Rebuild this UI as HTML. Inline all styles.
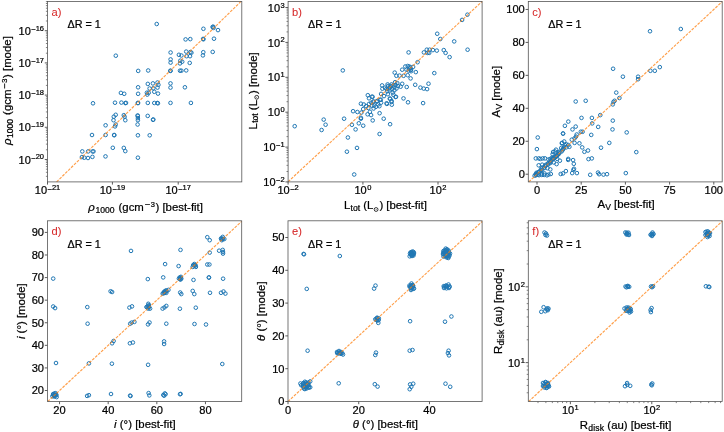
<!DOCTYPE html>
<html><head><meta charset="utf-8"><style>
html,body{margin:0;padding:0;background:#fff;}
svg{display:block;filter:blur(0.45px);}
text{font-family:"Liberation Sans",sans-serif;white-space:pre;stroke:#000;stroke-width:0.22px;}
</style></head><body>
<svg width="724" height="432" viewBox="0 0 724 432" fill="#000">
<rect width="724" height="432" fill="#fff"/>
<path d="M154.90 24.00a1.8 1.8 0 1 0 3.6 0a1.8 1.8 0 1 0 -3.6 0M201.60 28.80a1.8 1.8 0 1 0 3.6 0a1.8 1.8 0 1 0 -3.6 0M211.40 26.70a1.8 1.8 0 1 0 3.6 0a1.8 1.8 0 1 0 -3.6 0M211.70 27.90a1.8 1.8 0 1 0 3.6 0a1.8 1.8 0 1 0 -3.6 0M210.80 27.00a1.8 1.8 0 1 0 3.6 0a1.8 1.8 0 1 0 -3.6 0M216.20 30.10a1.8 1.8 0 1 0 3.6 0a1.8 1.8 0 1 0 -3.6 0M183.80 39.40a1.8 1.8 0 1 0 3.6 0a1.8 1.8 0 1 0 -3.6 0M188.50 39.10a1.8 1.8 0 1 0 3.6 0a1.8 1.8 0 1 0 -3.6 0M201.30 38.90a1.8 1.8 0 1 0 3.6 0a1.8 1.8 0 1 0 -3.6 0M201.60 39.30a1.8 1.8 0 1 0 3.6 0a1.8 1.8 0 1 0 -3.6 0M212.20 38.70a1.8 1.8 0 1 0 3.6 0a1.8 1.8 0 1 0 -3.6 0M168.80 52.50a1.8 1.8 0 1 0 3.6 0a1.8 1.8 0 1 0 -3.6 0M168.80 59.40a1.8 1.8 0 1 0 3.6 0a1.8 1.8 0 1 0 -3.6 0M168.80 62.60a1.8 1.8 0 1 0 3.6 0a1.8 1.8 0 1 0 -3.6 0M168.80 70.70a1.8 1.8 0 1 0 3.6 0a1.8 1.8 0 1 0 -3.6 0M168.50 70.90a1.8 1.8 0 1 0 3.6 0a1.8 1.8 0 1 0 -3.6 0M177.10 54.80a1.8 1.8 0 1 0 3.6 0a1.8 1.8 0 1 0 -3.6 0M179.60 55.50a1.8 1.8 0 1 0 3.6 0a1.8 1.8 0 1 0 -3.6 0M178.50 60.70a1.8 1.8 0 1 0 3.6 0a1.8 1.8 0 1 0 -3.6 0M180.40 61.70a1.8 1.8 0 1 0 3.6 0a1.8 1.8 0 1 0 -3.6 0M178.20 63.40a1.8 1.8 0 1 0 3.6 0a1.8 1.8 0 1 0 -3.6 0M184.40 51.60a1.8 1.8 0 1 0 3.6 0a1.8 1.8 0 1 0 -3.6 0M188.60 52.00a1.8 1.8 0 1 0 3.6 0a1.8 1.8 0 1 0 -3.6 0M184.80 56.20a1.8 1.8 0 1 0 3.6 0a1.8 1.8 0 1 0 -3.6 0M188.20 56.20a1.8 1.8 0 1 0 3.6 0a1.8 1.8 0 1 0 -3.6 0M189.60 52.70a1.8 1.8 0 1 0 3.6 0a1.8 1.8 0 1 0 -3.6 0M187.90 62.90a1.8 1.8 0 1 0 3.6 0a1.8 1.8 0 1 0 -3.6 0M178.20 70.70a1.8 1.8 0 1 0 3.6 0a1.8 1.8 0 1 0 -3.6 0M179.60 70.70a1.8 1.8 0 1 0 3.6 0a1.8 1.8 0 1 0 -3.6 0M184.40 70.40a1.8 1.8 0 1 0 3.6 0a1.8 1.8 0 1 0 -3.6 0M201.50 52.20a1.8 1.8 0 1 0 3.6 0a1.8 1.8 0 1 0 -3.6 0M201.10 55.40a1.8 1.8 0 1 0 3.6 0a1.8 1.8 0 1 0 -3.6 0M210.90 51.90a1.8 1.8 0 1 0 3.6 0a1.8 1.8 0 1 0 -3.6 0M114.00 55.70a1.8 1.8 0 1 0 3.6 0a1.8 1.8 0 1 0 -3.6 0M136.40 70.90a1.8 1.8 0 1 0 3.6 0a1.8 1.8 0 1 0 -3.6 0M146.40 70.50a1.8 1.8 0 1 0 3.6 0a1.8 1.8 0 1 0 -3.6 0M146.00 83.90a1.8 1.8 0 1 0 3.6 0a1.8 1.8 0 1 0 -3.6 0M151.10 83.40a1.8 1.8 0 1 0 3.6 0a1.8 1.8 0 1 0 -3.6 0M155.70 82.50a1.8 1.8 0 1 0 3.6 0a1.8 1.8 0 1 0 -3.6 0M156.60 84.80a1.8 1.8 0 1 0 3.6 0a1.8 1.8 0 1 0 -3.6 0M136.30 87.30a1.8 1.8 0 1 0 3.6 0a1.8 1.8 0 1 0 -3.6 0M147.80 88.50a1.8 1.8 0 1 0 3.6 0a1.8 1.8 0 1 0 -3.6 0M151.50 88.30a1.8 1.8 0 1 0 3.6 0a1.8 1.8 0 1 0 -3.6 0M155.70 87.60a1.8 1.8 0 1 0 3.6 0a1.8 1.8 0 1 0 -3.6 0M168.70 83.40a1.8 1.8 0 1 0 3.6 0a1.8 1.8 0 1 0 -3.6 0M168.70 87.60a1.8 1.8 0 1 0 3.6 0a1.8 1.8 0 1 0 -3.6 0M183.10 87.30a1.8 1.8 0 1 0 3.6 0a1.8 1.8 0 1 0 -3.6 0M119.10 92.90a1.8 1.8 0 1 0 3.6 0a1.8 1.8 0 1 0 -3.6 0M122.40 93.80a1.8 1.8 0 1 0 3.6 0a1.8 1.8 0 1 0 -3.6 0M136.30 93.80a1.8 1.8 0 1 0 3.6 0a1.8 1.8 0 1 0 -3.6 0M145.10 92.70a1.8 1.8 0 1 0 3.6 0a1.8 1.8 0 1 0 -3.6 0M146.90 92.70a1.8 1.8 0 1 0 3.6 0a1.8 1.8 0 1 0 -3.6 0M145.50 94.60a1.8 1.8 0 1 0 3.6 0a1.8 1.8 0 1 0 -3.6 0M152.50 91.80a1.8 1.8 0 1 0 3.6 0a1.8 1.8 0 1 0 -3.6 0M156.20 93.60a1.8 1.8 0 1 0 3.6 0a1.8 1.8 0 1 0 -3.6 0M119.60 102.60a1.8 1.8 0 1 0 3.6 0a1.8 1.8 0 1 0 -3.6 0M124.20 102.90a1.8 1.8 0 1 0 3.6 0a1.8 1.8 0 1 0 -3.6 0M123.60 103.10a1.8 1.8 0 1 0 3.6 0a1.8 1.8 0 1 0 -3.6 0M136.30 102.90a1.8 1.8 0 1 0 3.6 0a1.8 1.8 0 1 0 -3.6 0M136.00 103.10a1.8 1.8 0 1 0 3.6 0a1.8 1.8 0 1 0 -3.6 0M146.00 102.90a1.8 1.8 0 1 0 3.6 0a1.8 1.8 0 1 0 -3.6 0M152.50 103.00a1.8 1.8 0 1 0 3.6 0a1.8 1.8 0 1 0 -3.6 0M155.60 103.00a1.8 1.8 0 1 0 3.6 0a1.8 1.8 0 1 0 -3.6 0M156.10 103.30a1.8 1.8 0 1 0 3.6 0a1.8 1.8 0 1 0 -3.6 0M168.70 102.90a1.8 1.8 0 1 0 3.6 0a1.8 1.8 0 1 0 -3.6 0M189.10 102.90a1.8 1.8 0 1 0 3.6 0a1.8 1.8 0 1 0 -3.6 0M91.20 103.30a1.8 1.8 0 1 0 3.6 0a1.8 1.8 0 1 0 -3.6 0M113.20 102.70a1.8 1.8 0 1 0 3.6 0a1.8 1.8 0 1 0 -3.6 0M112.00 116.70a1.8 1.8 0 1 0 3.6 0a1.8 1.8 0 1 0 -3.6 0M113.90 114.80a1.8 1.8 0 1 0 3.6 0a1.8 1.8 0 1 0 -3.6 0M111.70 120.20a1.8 1.8 0 1 0 3.6 0a1.8 1.8 0 1 0 -3.6 0M122.00 115.20a1.8 1.8 0 1 0 3.6 0a1.8 1.8 0 1 0 -3.6 0M122.80 116.70a1.8 1.8 0 1 0 3.6 0a1.8 1.8 0 1 0 -3.6 0M123.50 120.20a1.8 1.8 0 1 0 3.6 0a1.8 1.8 0 1 0 -3.6 0M135.80 115.50a1.8 1.8 0 1 0 3.6 0a1.8 1.8 0 1 0 -3.6 0M136.00 115.90a1.8 1.8 0 1 0 3.6 0a1.8 1.8 0 1 0 -3.6 0M136.10 118.10a1.8 1.8 0 1 0 3.6 0a1.8 1.8 0 1 0 -3.6 0M136.10 120.20a1.8 1.8 0 1 0 3.6 0a1.8 1.8 0 1 0 -3.6 0M145.90 115.90a1.8 1.8 0 1 0 3.6 0a1.8 1.8 0 1 0 -3.6 0M151.50 119.50a1.8 1.8 0 1 0 3.6 0a1.8 1.8 0 1 0 -3.6 0M151.20 119.80a1.8 1.8 0 1 0 3.6 0a1.8 1.8 0 1 0 -3.6 0M103.80 125.30a1.8 1.8 0 1 0 3.6 0a1.8 1.8 0 1 0 -3.6 0M113.90 124.50a1.8 1.8 0 1 0 3.6 0a1.8 1.8 0 1 0 -3.6 0M113.20 126.40a1.8 1.8 0 1 0 3.6 0a1.8 1.8 0 1 0 -3.6 0M135.80 124.50a1.8 1.8 0 1 0 3.6 0a1.8 1.8 0 1 0 -3.6 0M90.20 135.00a1.8 1.8 0 1 0 3.6 0a1.8 1.8 0 1 0 -3.6 0M103.80 135.00a1.8 1.8 0 1 0 3.6 0a1.8 1.8 0 1 0 -3.6 0M112.30 135.00a1.8 1.8 0 1 0 3.6 0a1.8 1.8 0 1 0 -3.6 0M112.50 135.20a1.8 1.8 0 1 0 3.6 0a1.8 1.8 0 1 0 -3.6 0M136.10 135.30a1.8 1.8 0 1 0 3.6 0a1.8 1.8 0 1 0 -3.6 0M147.90 135.30a1.8 1.8 0 1 0 3.6 0a1.8 1.8 0 1 0 -3.6 0M111.00 147.80a1.8 1.8 0 1 0 3.6 0a1.8 1.8 0 1 0 -3.6 0M122.00 147.90a1.8 1.8 0 1 0 3.6 0a1.8 1.8 0 1 0 -3.6 0M123.50 151.10a1.8 1.8 0 1 0 3.6 0a1.8 1.8 0 1 0 -3.6 0M80.50 151.40a1.8 1.8 0 1 0 3.6 0a1.8 1.8 0 1 0 -3.6 0M86.40 151.40a1.8 1.8 0 1 0 3.6 0a1.8 1.8 0 1 0 -3.6 0M90.80 151.40a1.8 1.8 0 1 0 3.6 0a1.8 1.8 0 1 0 -3.6 0M91.70 151.40a1.8 1.8 0 1 0 3.6 0a1.8 1.8 0 1 0 -3.6 0M80.10 157.10a1.8 1.8 0 1 0 3.6 0a1.8 1.8 0 1 0 -3.6 0M82.50 157.70a1.8 1.8 0 1 0 3.6 0a1.8 1.8 0 1 0 -3.6 0M86.20 158.00a1.8 1.8 0 1 0 3.6 0a1.8 1.8 0 1 0 -3.6 0M90.60 156.90a1.8 1.8 0 1 0 3.6 0a1.8 1.8 0 1 0 -3.6 0M103.70 156.40a1.8 1.8 0 1 0 3.6 0a1.8 1.8 0 1 0 -3.6 0M136.10 157.70a1.8 1.8 0 1 0 3.6 0a1.8 1.8 0 1 0 -3.6 0" stroke="#1f77b4" stroke-width="1.0" fill="none"/>
<line x1="56.61" y1="181.90" x2="241.04" y2="1.40" stroke="#ff7f0e" stroke-width="1.15" stroke-dasharray="2.83 1.22" stroke-opacity="0.75"/>
<path d="M47.50 181.90v2.7M112.41 181.90v2.7M178.21 181.90v2.7M47.50 159.49h-2.7M47.50 127.29h-2.7M47.50 95.10h-2.7M47.50 62.90h-2.7M47.50 30.70h-2.7" stroke="#333" stroke-width="0.8" fill="none"/>
<path d="M47.50 176.33h-1.6M47.50 172.30h-1.6M47.50 169.18h-1.6M47.50 166.63h-1.6M47.50 164.48h-1.6M47.50 162.61h-1.6M47.50 160.96h-1.6M47.50 149.80h-1.6M47.50 144.13h-1.6M47.50 140.11h-1.6M47.50 136.99h-1.6M47.50 134.44h-1.6M47.50 132.28h-1.6M47.50 130.41h-1.6M47.50 128.77h-1.6M47.50 117.60h-1.6M47.50 111.93h-1.6M47.50 107.91h-1.6M47.50 104.79h-1.6M47.50 102.24h-1.6M47.50 100.08h-1.6M47.50 98.22h-1.6M47.50 96.57h-1.6M47.50 85.40h-1.6M47.50 79.73h-1.6M47.50 75.71h-1.6M47.50 72.59h-1.6M47.50 70.04h-1.6M47.50 67.88h-1.6M47.50 66.02h-1.6M47.50 64.37h-1.6M47.50 53.21h-1.6M47.50 47.54h-1.6M47.50 43.51h-1.6M47.50 40.39h-1.6M47.50 37.84h-1.6M47.50 35.69h-1.6M47.50 33.82h-1.6M47.50 32.17h-1.6M47.50 21.01h-1.6M47.50 15.34h-1.6M47.50 11.31h-1.6M47.50 8.19h-1.6M47.50 5.65h-1.6M47.50 3.49h-1.6M47.50 1.62h-1.6" stroke="#333" stroke-width="0.6" fill="none"/>
<rect x="47.5" y="1.4" width="194.30" height="180.50" fill="none" stroke="#555" stroke-width="0.8"/>
<text x="34.77" y="194.40" font-size="11.0">10</text><text x="47.51" y="191.60" font-size="7.5">−</text><text x="51.89" y="190.30" font-size="7.5">21</text>
<text x="99.68" y="194.40" font-size="11.0">10</text><text x="112.42" y="191.60" font-size="7.5">−</text><text x="116.80" y="190.30" font-size="7.5">19</text>
<text x="165.48" y="194.40" font-size="11.0">10</text><text x="178.21" y="191.60" font-size="7.5">−</text><text x="182.59" y="190.30" font-size="7.5">17</text>
<text x="18.54" y="163.59" font-size="11.0">10</text><text x="31.28" y="160.79" font-size="7.5">−</text><text x="35.66" y="159.49" font-size="7.5">20</text>
<text x="18.54" y="131.39" font-size="11.0">10</text><text x="31.28" y="128.59" font-size="7.5">−</text><text x="35.66" y="127.29" font-size="7.5">19</text>
<text x="18.54" y="99.20" font-size="11.0">10</text><text x="31.28" y="96.40" font-size="7.5">−</text><text x="35.66" y="95.10" font-size="7.5">18</text>
<text x="18.54" y="67.00" font-size="11.0">10</text><text x="31.28" y="64.20" font-size="7.5">−</text><text x="35.66" y="62.90" font-size="7.5">17</text>
<text x="18.54" y="34.80" font-size="11.0">10</text><text x="31.28" y="32.00" font-size="7.5">−</text><text x="35.66" y="30.70" font-size="7.5">16</text>
<text x="51.50" y="15.50" font-size="11.1" style="fill:#d62728;stroke:#d62728;stroke-width:0.05px">a)</text>
<text x="67.50" y="27.70" font-size="10.8">ΔR = 1</text>
<path d="M465.60 14.70a1.8 1.8 0 1 0 3.6 0a1.8 1.8 0 1 0 -3.6 0M460.30 19.90a1.8 1.8 0 1 0 3.6 0a1.8 1.8 0 1 0 -3.6 0M435.40 33.75a1.8 1.8 0 1 0 3.6 0a1.8 1.8 0 1 0 -3.6 0M438.50 39.00a1.8 1.8 0 1 0 3.6 0a1.8 1.8 0 1 0 -3.6 0M452.40 41.40a1.8 1.8 0 1 0 3.6 0a1.8 1.8 0 1 0 -3.6 0M406.80 52.40a1.8 1.8 0 1 0 3.6 0a1.8 1.8 0 1 0 -3.6 0M422.10 52.40a1.8 1.8 0 1 0 3.6 0a1.8 1.8 0 1 0 -3.6 0M425.00 49.70a1.8 1.8 0 1 0 3.6 0a1.8 1.8 0 1 0 -3.6 0M427.80 49.70a1.8 1.8 0 1 0 3.6 0a1.8 1.8 0 1 0 -3.6 0M425.70 52.90a1.8 1.8 0 1 0 3.6 0a1.8 1.8 0 1 0 -3.6 0M427.40 52.90a1.8 1.8 0 1 0 3.6 0a1.8 1.8 0 1 0 -3.6 0M431.10 50.10a1.8 1.8 0 1 0 3.6 0a1.8 1.8 0 1 0 -3.6 0M435.00 50.60a1.8 1.8 0 1 0 3.6 0a1.8 1.8 0 1 0 -3.6 0M441.95 50.10a1.8 1.8 0 1 0 3.6 0a1.8 1.8 0 1 0 -3.6 0M443.80 52.90a1.8 1.8 0 1 0 3.6 0a1.8 1.8 0 1 0 -3.6 0M447.80 57.10a1.8 1.8 0 1 0 3.6 0a1.8 1.8 0 1 0 -3.6 0M465.80 49.70a1.8 1.8 0 1 0 3.6 0a1.8 1.8 0 1 0 -3.6 0M415.80 62.20a1.8 1.8 0 1 0 3.6 0a1.8 1.8 0 1 0 -3.6 0M403.50 66.50a1.8 1.8 0 1 0 3.6 0a1.8 1.8 0 1 0 -3.6 0M405.90 66.00a1.8 1.8 0 1 0 3.6 0a1.8 1.8 0 1 0 -3.6 0M407.60 66.50a1.8 1.8 0 1 0 3.6 0a1.8 1.8 0 1 0 -3.6 0M411.30 66.90a1.8 1.8 0 1 0 3.6 0a1.8 1.8 0 1 0 -3.6 0M400.40 69.70a1.8 1.8 0 1 0 3.6 0a1.8 1.8 0 1 0 -3.6 0M404.70 69.70a1.8 1.8 0 1 0 3.6 0a1.8 1.8 0 1 0 -3.6 0M408.80 70.00a1.8 1.8 0 1 0 3.6 0a1.8 1.8 0 1 0 -3.6 0M409.30 71.20a1.8 1.8 0 1 0 3.6 0a1.8 1.8 0 1 0 -3.6 0M414.00 72.10a1.8 1.8 0 1 0 3.6 0a1.8 1.8 0 1 0 -3.6 0M392.90 72.60a1.8 1.8 0 1 0 3.6 0a1.8 1.8 0 1 0 -3.6 0M394.60 75.80a1.8 1.8 0 1 0 3.6 0a1.8 1.8 0 1 0 -3.6 0M397.70 75.60a1.8 1.8 0 1 0 3.6 0a1.8 1.8 0 1 0 -3.6 0M401.80 75.80a1.8 1.8 0 1 0 3.6 0a1.8 1.8 0 1 0 -3.6 0M405.90 75.20a1.8 1.8 0 1 0 3.6 0a1.8 1.8 0 1 0 -3.6 0M408.80 78.40a1.8 1.8 0 1 0 3.6 0a1.8 1.8 0 1 0 -3.6 0M432.50 73.10a1.8 1.8 0 1 0 3.6 0a1.8 1.8 0 1 0 -3.6 0M380.30 85.40a1.8 1.8 0 1 0 3.6 0a1.8 1.8 0 1 0 -3.6 0M380.60 88.70a1.8 1.8 0 1 0 3.6 0a1.8 1.8 0 1 0 -3.6 0M385.80 84.40a1.8 1.8 0 1 0 3.6 0a1.8 1.8 0 1 0 -3.6 0M389.70 84.40a1.8 1.8 0 1 0 3.6 0a1.8 1.8 0 1 0 -3.6 0M393.30 82.20a1.8 1.8 0 1 0 3.6 0a1.8 1.8 0 1 0 -3.6 0M395.50 83.10a1.8 1.8 0 1 0 3.6 0a1.8 1.8 0 1 0 -3.6 0M400.40 83.80a1.8 1.8 0 1 0 3.6 0a1.8 1.8 0 1 0 -3.6 0M398.80 86.70a1.8 1.8 0 1 0 3.6 0a1.8 1.8 0 1 0 -3.6 0M404.90 87.00a1.8 1.8 0 1 0 3.6 0a1.8 1.8 0 1 0 -3.6 0M383.20 87.70a1.8 1.8 0 1 0 3.6 0a1.8 1.8 0 1 0 -3.6 0M387.40 88.30a1.8 1.8 0 1 0 3.6 0a1.8 1.8 0 1 0 -3.6 0M392.60 87.40a1.8 1.8 0 1 0 3.6 0a1.8 1.8 0 1 0 -3.6 0M392.60 90.30a1.8 1.8 0 1 0 3.6 0a1.8 1.8 0 1 0 -3.6 0M385.50 91.30a1.8 1.8 0 1 0 3.6 0a1.8 1.8 0 1 0 -3.6 0M391.00 92.60a1.8 1.8 0 1 0 3.6 0a1.8 1.8 0 1 0 -3.6 0M386.10 94.20a1.8 1.8 0 1 0 3.6 0a1.8 1.8 0 1 0 -3.6 0M391.60 94.80a1.8 1.8 0 1 0 3.6 0a1.8 1.8 0 1 0 -3.6 0M394.20 96.80a1.8 1.8 0 1 0 3.6 0a1.8 1.8 0 1 0 -3.6 0M382.20 96.10a1.8 1.8 0 1 0 3.6 0a1.8 1.8 0 1 0 -3.6 0M379.30 93.90a1.8 1.8 0 1 0 3.6 0a1.8 1.8 0 1 0 -3.6 0M370.80 96.80a1.8 1.8 0 1 0 3.6 0a1.8 1.8 0 1 0 -3.6 0M388.40 98.70a1.8 1.8 0 1 0 3.6 0a1.8 1.8 0 1 0 -3.6 0M401.70 98.40a1.8 1.8 0 1 0 3.6 0a1.8 1.8 0 1 0 -3.6 0M379.00 99.70a1.8 1.8 0 1 0 3.6 0a1.8 1.8 0 1 0 -3.6 0M375.40 101.00a1.8 1.8 0 1 0 3.6 0a1.8 1.8 0 1 0 -3.6 0M371.50 101.60a1.8 1.8 0 1 0 3.6 0a1.8 1.8 0 1 0 -3.6 0M384.80 103.30a1.8 1.8 0 1 0 3.6 0a1.8 1.8 0 1 0 -3.6 0M389.70 102.00a1.8 1.8 0 1 0 3.6 0a1.8 1.8 0 1 0 -3.6 0M406.20 102.30a1.8 1.8 0 1 0 3.6 0a1.8 1.8 0 1 0 -3.6 0M413.40 84.80a1.8 1.8 0 1 0 3.6 0a1.8 1.8 0 1 0 -3.6 0M426.70 83.70a1.8 1.8 0 1 0 3.6 0a1.8 1.8 0 1 0 -3.6 0M418.60 87.60a1.8 1.8 0 1 0 3.6 0a1.8 1.8 0 1 0 -3.6 0M421.90 88.60a1.8 1.8 0 1 0 3.6 0a1.8 1.8 0 1 0 -3.6 0M425.30 89.10a1.8 1.8 0 1 0 3.6 0a1.8 1.8 0 1 0 -3.6 0M421.30 103.10a1.8 1.8 0 1 0 3.6 0a1.8 1.8 0 1 0 -3.6 0M366.00 95.20a1.8 1.8 0 1 0 3.6 0a1.8 1.8 0 1 0 -3.6 0M370.10 96.70a1.8 1.8 0 1 0 3.6 0a1.8 1.8 0 1 0 -3.6 0M367.20 98.30a1.8 1.8 0 1 0 3.6 0a1.8 1.8 0 1 0 -3.6 0M388.00 98.70a1.8 1.8 0 1 0 3.6 0a1.8 1.8 0 1 0 -3.6 0M389.80 101.00a1.8 1.8 0 1 0 3.6 0a1.8 1.8 0 1 0 -3.6 0M393.80 97.00a1.8 1.8 0 1 0 3.6 0a1.8 1.8 0 1 0 -3.6 0M385.10 103.90a1.8 1.8 0 1 0 3.6 0a1.8 1.8 0 1 0 -3.6 0M390.00 104.70a1.8 1.8 0 1 0 3.6 0a1.8 1.8 0 1 0 -3.6 0M359.10 103.70a1.8 1.8 0 1 0 3.6 0a1.8 1.8 0 1 0 -3.6 0M362.00 104.50a1.8 1.8 0 1 0 3.6 0a1.8 1.8 0 1 0 -3.6 0M364.30 106.20a1.8 1.8 0 1 0 3.6 0a1.8 1.8 0 1 0 -3.6 0M367.20 103.90a1.8 1.8 0 1 0 3.6 0a1.8 1.8 0 1 0 -3.6 0M369.50 102.70a1.8 1.8 0 1 0 3.6 0a1.8 1.8 0 1 0 -3.6 0M371.80 101.60a1.8 1.8 0 1 0 3.6 0a1.8 1.8 0 1 0 -3.6 0M374.70 101.60a1.8 1.8 0 1 0 3.6 0a1.8 1.8 0 1 0 -3.6 0M378.20 99.80a1.8 1.8 0 1 0 3.6 0a1.8 1.8 0 1 0 -3.6 0M379.30 102.70a1.8 1.8 0 1 0 3.6 0a1.8 1.8 0 1 0 -3.6 0M376.40 104.50a1.8 1.8 0 1 0 3.6 0a1.8 1.8 0 1 0 -3.6 0M370.10 105.60a1.8 1.8 0 1 0 3.6 0a1.8 1.8 0 1 0 -3.6 0M372.40 105.60a1.8 1.8 0 1 0 3.6 0a1.8 1.8 0 1 0 -3.6 0M374.10 106.80a1.8 1.8 0 1 0 3.6 0a1.8 1.8 0 1 0 -3.6 0M377.60 106.20a1.8 1.8 0 1 0 3.6 0a1.8 1.8 0 1 0 -3.6 0M366.60 108.00a1.8 1.8 0 1 0 3.6 0a1.8 1.8 0 1 0 -3.6 0M361.40 109.10a1.8 1.8 0 1 0 3.6 0a1.8 1.8 0 1 0 -3.6 0M371.80 108.50a1.8 1.8 0 1 0 3.6 0a1.8 1.8 0 1 0 -3.6 0M351.30 111.20a1.8 1.8 0 1 0 3.6 0a1.8 1.8 0 1 0 -3.6 0M355.60 112.00a1.8 1.8 0 1 0 3.6 0a1.8 1.8 0 1 0 -3.6 0M359.60 112.60a1.8 1.8 0 1 0 3.6 0a1.8 1.8 0 1 0 -3.6 0M368.10 111.80a1.8 1.8 0 1 0 3.6 0a1.8 1.8 0 1 0 -3.6 0M365.80 114.30a1.8 1.8 0 1 0 3.6 0a1.8 1.8 0 1 0 -3.6 0M369.30 115.10a1.8 1.8 0 1 0 3.6 0a1.8 1.8 0 1 0 -3.6 0M377.80 113.20a1.8 1.8 0 1 0 3.6 0a1.8 1.8 0 1 0 -3.6 0M359.10 117.80a1.8 1.8 0 1 0 3.6 0a1.8 1.8 0 1 0 -3.6 0M359.10 118.70a1.8 1.8 0 1 0 3.6 0a1.8 1.8 0 1 0 -3.6 0M342.30 118.70a1.8 1.8 0 1 0 3.6 0a1.8 1.8 0 1 0 -3.6 0M370.90 120.40a1.8 1.8 0 1 0 3.6 0a1.8 1.8 0 1 0 -3.6 0M381.90 118.70a1.8 1.8 0 1 0 3.6 0a1.8 1.8 0 1 0 -3.6 0M357.00 123.30a1.8 1.8 0 1 0 3.6 0a1.8 1.8 0 1 0 -3.6 0M350.10 124.80a1.8 1.8 0 1 0 3.6 0a1.8 1.8 0 1 0 -3.6 0M361.40 125.70a1.8 1.8 0 1 0 3.6 0a1.8 1.8 0 1 0 -3.6 0M388.30 124.20a1.8 1.8 0 1 0 3.6 0a1.8 1.8 0 1 0 -3.6 0M353.80 129.40a1.8 1.8 0 1 0 3.6 0a1.8 1.8 0 1 0 -3.6 0M377.80 134.00a1.8 1.8 0 1 0 3.6 0a1.8 1.8 0 1 0 -3.6 0M346.10 137.50a1.8 1.8 0 1 0 3.6 0a1.8 1.8 0 1 0 -3.6 0M292.90 126.20a1.8 1.8 0 1 0 3.6 0a1.8 1.8 0 1 0 -3.6 0M321.90 119.60a1.8 1.8 0 1 0 3.6 0a1.8 1.8 0 1 0 -3.6 0M323.80 124.70a1.8 1.8 0 1 0 3.6 0a1.8 1.8 0 1 0 -3.6 0M319.80 130.00a1.8 1.8 0 1 0 3.6 0a1.8 1.8 0 1 0 -3.6 0M355.20 147.90a1.8 1.8 0 1 0 3.6 0a1.8 1.8 0 1 0 -3.6 0M345.10 151.70a1.8 1.8 0 1 0 3.6 0a1.8 1.8 0 1 0 -3.6 0M352.40 174.50a1.8 1.8 0 1 0 3.6 0a1.8 1.8 0 1 0 -3.6 0M341.00 70.40a1.8 1.8 0 1 0 3.6 0a1.8 1.8 0 1 0 -3.6 0M386.20 86.00a1.8 1.8 0 1 0 3.6 0a1.8 1.8 0 1 0 -3.6 0M388.20 87.50a1.8 1.8 0 1 0 3.6 0a1.8 1.8 0 1 0 -3.6 0M390.20 89.00a1.8 1.8 0 1 0 3.6 0a1.8 1.8 0 1 0 -3.6 0M387.70 90.50a1.8 1.8 0 1 0 3.6 0a1.8 1.8 0 1 0 -3.6 0M389.20 86.00a1.8 1.8 0 1 0 3.6 0a1.8 1.8 0 1 0 -3.6 0M391.70 85.50a1.8 1.8 0 1 0 3.6 0a1.8 1.8 0 1 0 -3.6 0M393.70 85.00a1.8 1.8 0 1 0 3.6 0a1.8 1.8 0 1 0 -3.6 0M394.70 88.50a1.8 1.8 0 1 0 3.6 0a1.8 1.8 0 1 0 -3.6 0M396.20 86.00a1.8 1.8 0 1 0 3.6 0a1.8 1.8 0 1 0 -3.6 0M384.70 89.00a1.8 1.8 0 1 0 3.6 0a1.8 1.8 0 1 0 -3.6 0M407.70 68.50a1.8 1.8 0 1 0 3.6 0a1.8 1.8 0 1 0 -3.6 0M409.20 69.50a1.8 1.8 0 1 0 3.6 0a1.8 1.8 0 1 0 -3.6 0M406.70 70.50a1.8 1.8 0 1 0 3.6 0a1.8 1.8 0 1 0 -3.6 0M408.70 67.50a1.8 1.8 0 1 0 3.6 0a1.8 1.8 0 1 0 -3.6 0" stroke="#1f77b4" stroke-width="1.0" fill="none"/>
<line x1="288.10" y1="181.73" x2="482.10" y2="1.43" stroke="#ff7f0e" stroke-width="1.15" stroke-dasharray="2.83 1.22" stroke-opacity="0.75"/>
<path d="M288.10 181.90v2.7M362.91 181.90v2.7M438.01 181.90v2.7M288.10 181.90h-2.7M288.10 147.11h-2.7M288.10 112.21h-2.7M288.10 77.31h-2.7M288.10 42.41h-2.7M288.10 7.51h-2.7" stroke="#333" stroke-width="0.8" fill="none"/>
<path d="M288.10 171.50h-1.6M288.10 165.35h-1.6M288.10 160.99h-1.6M288.10 157.61h-1.6M288.10 154.85h-1.6M288.10 152.51h-1.6M288.10 150.49h-1.6M288.10 148.70h-1.6M288.10 136.60h-1.6M288.10 130.45h-1.6M288.10 126.09h-1.6M288.10 122.71h-1.6M288.10 119.95h-1.6M288.10 117.61h-1.6M288.10 115.59h-1.6M288.10 113.80h-1.6M288.10 101.70h-1.6M288.10 95.55h-1.6M288.10 91.19h-1.6M288.10 87.81h-1.6M288.10 85.05h-1.6M288.10 82.71h-1.6M288.10 80.69h-1.6M288.10 78.90h-1.6M288.10 66.80h-1.6M288.10 60.66h-1.6M288.10 56.29h-1.6M288.10 52.91h-1.6M288.10 50.15h-1.6M288.10 47.81h-1.6M288.10 45.79h-1.6M288.10 44.00h-1.6M288.10 31.90h-1.6M288.10 25.76h-1.6M288.10 21.40h-1.6M288.10 18.01h-1.6M288.10 15.25h-1.6M288.10 12.91h-1.6M288.10 10.89h-1.6M288.10 9.10h-1.6" stroke="#333" stroke-width="0.6" fill="none"/>
<rect x="288.1" y="1.4" width="194.00" height="180.50" fill="none" stroke="#555" stroke-width="0.8"/>
<text x="277.46" y="194.40" font-size="11.0">10</text><text x="290.19" y="191.60" font-size="7.5">−</text><text x="294.57" y="190.30" font-size="7.5">2</text>
<text x="354.50" y="194.40" font-size="11.0">10</text><text x="367.14" y="190.30" font-size="7.5">0</text>
<text x="429.61" y="194.40" font-size="11.0">10</text><text x="442.24" y="190.30" font-size="7.5">2</text>
<text x="263.31" y="186.00" font-size="11.0">10</text><text x="276.05" y="183.20" font-size="7.5">−</text><text x="280.43" y="181.90" font-size="7.5">2</text>
<text x="263.31" y="151.21" font-size="11.0">10</text><text x="276.05" y="148.41" font-size="7.5">−</text><text x="280.43" y="147.11" font-size="7.5">1</text>
<text x="267.79" y="116.31" font-size="11.0">10</text><text x="280.43" y="112.21" font-size="7.5">0</text>
<text x="267.79" y="81.41" font-size="11.0">10</text><text x="280.43" y="77.31" font-size="7.5">1</text>
<text x="267.79" y="46.51" font-size="11.0">10</text><text x="280.43" y="42.41" font-size="7.5">2</text>
<text x="267.79" y="11.61" font-size="11.0">10</text><text x="280.43" y="7.51" font-size="7.5">3</text>
<text x="292.10" y="15.50" font-size="11.1" style="fill:#d62728;stroke:#d62728;stroke-width:0.05px">b)</text>
<text x="308.10" y="27.70" font-size="10.8">ΔR = 1</text>
<path d="M648.20 31.25a1.8 1.8 0 1 0 3.6 0a1.8 1.8 0 1 0 -3.6 0M679.00 29.00a1.8 1.8 0 1 0 3.6 0a1.8 1.8 0 1 0 -3.6 0M611.30 68.75a1.8 1.8 0 1 0 3.6 0a1.8 1.8 0 1 0 -3.6 0M621.10 76.70a1.8 1.8 0 1 0 3.6 0a1.8 1.8 0 1 0 -3.6 0M636.30 76.70a1.8 1.8 0 1 0 3.6 0a1.8 1.8 0 1 0 -3.6 0M636.30 79.20a1.8 1.8 0 1 0 3.6 0a1.8 1.8 0 1 0 -3.6 0M648.60 70.80a1.8 1.8 0 1 0 3.6 0a1.8 1.8 0 1 0 -3.6 0M653.00 70.80a1.8 1.8 0 1 0 3.6 0a1.8 1.8 0 1 0 -3.6 0M658.00 67.10a1.8 1.8 0 1 0 3.6 0a1.8 1.8 0 1 0 -3.6 0M614.45 92.60a1.8 1.8 0 1 0 3.6 0a1.8 1.8 0 1 0 -3.6 0M617.60 98.00a1.8 1.8 0 1 0 3.6 0a1.8 1.8 0 1 0 -3.6 0M612.80 100.80a1.8 1.8 0 1 0 3.6 0a1.8 1.8 0 1 0 -3.6 0M611.70 101.90a1.8 1.8 0 1 0 3.6 0a1.8 1.8 0 1 0 -3.6 0M611.00 104.40a1.8 1.8 0 1 0 3.6 0a1.8 1.8 0 1 0 -3.6 0M573.90 101.50a1.8 1.8 0 1 0 3.6 0a1.8 1.8 0 1 0 -3.6 0M583.90 100.80a1.8 1.8 0 1 0 3.6 0a1.8 1.8 0 1 0 -3.6 0M598.50 115.10a1.8 1.8 0 1 0 3.6 0a1.8 1.8 0 1 0 -3.6 0M579.70 117.90a1.8 1.8 0 1 0 3.6 0a1.8 1.8 0 1 0 -3.6 0M590.10 117.90a1.8 1.8 0 1 0 3.6 0a1.8 1.8 0 1 0 -3.6 0M611.00 120.60a1.8 1.8 0 1 0 3.6 0a1.8 1.8 0 1 0 -3.6 0M566.50 121.60a1.8 1.8 0 1 0 3.6 0a1.8 1.8 0 1 0 -3.6 0M590.40 123.40a1.8 1.8 0 1 0 3.6 0a1.8 1.8 0 1 0 -3.6 0M563.10 125.80a1.8 1.8 0 1 0 3.6 0a1.8 1.8 0 1 0 -3.6 0M573.90 126.60a1.8 1.8 0 1 0 3.6 0a1.8 1.8 0 1 0 -3.6 0M596.40 126.90a1.8 1.8 0 1 0 3.6 0a1.8 1.8 0 1 0 -3.6 0M570.70 129.40a1.8 1.8 0 1 0 3.6 0a1.8 1.8 0 1 0 -3.6 0M610.70 129.40a1.8 1.8 0 1 0 3.6 0a1.8 1.8 0 1 0 -3.6 0M624.90 132.40a1.8 1.8 0 1 0 3.6 0a1.8 1.8 0 1 0 -3.6 0M561.30 133.60a1.8 1.8 0 1 0 3.6 0a1.8 1.8 0 1 0 -3.6 0M579.00 131.75a1.8 1.8 0 1 0 3.6 0a1.8 1.8 0 1 0 -3.6 0M580.80 131.75a1.8 1.8 0 1 0 3.6 0a1.8 1.8 0 1 0 -3.6 0M589.45 134.90a1.8 1.8 0 1 0 3.6 0a1.8 1.8 0 1 0 -3.6 0M574.90 134.50a1.8 1.8 0 1 0 3.6 0a1.8 1.8 0 1 0 -3.6 0M574.20 136.60a1.8 1.8 0 1 0 3.6 0a1.8 1.8 0 1 0 -3.6 0M572.80 138.30a1.8 1.8 0 1 0 3.6 0a1.8 1.8 0 1 0 -3.6 0M570.00 139.70a1.8 1.8 0 1 0 3.6 0a1.8 1.8 0 1 0 -3.6 0M607.50 142.90a1.8 1.8 0 1 0 3.6 0a1.8 1.8 0 1 0 -3.6 0M577.60 143.30a1.8 1.8 0 1 0 3.6 0a1.8 1.8 0 1 0 -3.6 0M572.80 142.90a1.8 1.8 0 1 0 3.6 0a1.8 1.8 0 1 0 -3.6 0M562.40 141.50a1.8 1.8 0 1 0 3.6 0a1.8 1.8 0 1 0 -3.6 0M560.30 142.90a1.8 1.8 0 1 0 3.6 0a1.8 1.8 0 1 0 -3.6 0M564.45 144.25a1.8 1.8 0 1 0 3.6 0a1.8 1.8 0 1 0 -3.6 0M566.50 145.00a1.8 1.8 0 1 0 3.6 0a1.8 1.8 0 1 0 -3.6 0M580.40 147.40a1.8 1.8 0 1 0 3.6 0a1.8 1.8 0 1 0 -3.6 0M599.20 147.70a1.8 1.8 0 1 0 3.6 0a1.8 1.8 0 1 0 -3.6 0M535.95 137.50a1.8 1.8 0 1 0 3.6 0a1.8 1.8 0 1 0 -3.6 0M561.20 133.50a1.8 1.8 0 1 0 3.6 0a1.8 1.8 0 1 0 -3.6 0M560.00 143.30a1.8 1.8 0 1 0 3.6 0a1.8 1.8 0 1 0 -3.6 0M562.90 145.00a1.8 1.8 0 1 0 3.6 0a1.8 1.8 0 1 0 -3.6 0M567.60 146.80a1.8 1.8 0 1 0 3.6 0a1.8 1.8 0 1 0 -3.6 0M559.45 147.90a1.8 1.8 0 1 0 3.6 0a1.8 1.8 0 1 0 -3.6 0M561.20 149.10a1.8 1.8 0 1 0 3.6 0a1.8 1.8 0 1 0 -3.6 0M535.10 149.10a1.8 1.8 0 1 0 3.6 0a1.8 1.8 0 1 0 -3.6 0M554.20 149.70a1.8 1.8 0 1 0 3.6 0a1.8 1.8 0 1 0 -3.6 0M551.30 152.00a1.8 1.8 0 1 0 3.6 0a1.8 1.8 0 1 0 -3.6 0M553.10 151.40a1.8 1.8 0 1 0 3.6 0a1.8 1.8 0 1 0 -3.6 0M550.80 154.30a1.8 1.8 0 1 0 3.6 0a1.8 1.8 0 1 0 -3.6 0M557.10 152.60a1.8 1.8 0 1 0 3.6 0a1.8 1.8 0 1 0 -3.6 0M556.00 154.30a1.8 1.8 0 1 0 3.6 0a1.8 1.8 0 1 0 -3.6 0M554.80 156.00a1.8 1.8 0 1 0 3.6 0a1.8 1.8 0 1 0 -3.6 0M552.50 156.60a1.8 1.8 0 1 0 3.6 0a1.8 1.8 0 1 0 -3.6 0M550.20 157.80a1.8 1.8 0 1 0 3.6 0a1.8 1.8 0 1 0 -3.6 0M548.50 158.90a1.8 1.8 0 1 0 3.6 0a1.8 1.8 0 1 0 -3.6 0M534.00 158.40a1.8 1.8 0 1 0 3.6 0a1.8 1.8 0 1 0 -3.6 0M536.90 158.40a1.8 1.8 0 1 0 3.6 0a1.8 1.8 0 1 0 -3.6 0M538.60 158.90a1.8 1.8 0 1 0 3.6 0a1.8 1.8 0 1 0 -3.6 0M540.90 158.40a1.8 1.8 0 1 0 3.6 0a1.8 1.8 0 1 0 -3.6 0M543.20 158.40a1.8 1.8 0 1 0 3.6 0a1.8 1.8 0 1 0 -3.6 0M546.70 159.50a1.8 1.8 0 1 0 3.6 0a1.8 1.8 0 1 0 -3.6 0M551.30 158.90a1.8 1.8 0 1 0 3.6 0a1.8 1.8 0 1 0 -3.6 0M555.40 158.90a1.8 1.8 0 1 0 3.6 0a1.8 1.8 0 1 0 -3.6 0M558.10 160.70a1.8 1.8 0 1 0 3.6 0a1.8 1.8 0 1 0 -3.6 0M566.40 158.90a1.8 1.8 0 1 0 3.6 0a1.8 1.8 0 1 0 -3.6 0M566.40 159.90a1.8 1.8 0 1 0 3.6 0a1.8 1.8 0 1 0 -3.6 0M571.30 160.10a1.8 1.8 0 1 0 3.6 0a1.8 1.8 0 1 0 -3.6 0M572.00 163.80a1.8 1.8 0 1 0 3.6 0a1.8 1.8 0 1 0 -3.6 0M554.80 164.10a1.8 1.8 0 1 0 3.6 0a1.8 1.8 0 1 0 -3.6 0M551.90 162.40a1.8 1.8 0 1 0 3.6 0a1.8 1.8 0 1 0 -3.6 0M548.50 163.00a1.8 1.8 0 1 0 3.6 0a1.8 1.8 0 1 0 -3.6 0M546.20 163.60a1.8 1.8 0 1 0 3.6 0a1.8 1.8 0 1 0 -3.6 0M536.90 165.30a1.8 1.8 0 1 0 3.6 0a1.8 1.8 0 1 0 -3.6 0M540.40 164.70a1.8 1.8 0 1 0 3.6 0a1.8 1.8 0 1 0 -3.6 0M543.80 165.90a1.8 1.8 0 1 0 3.6 0a1.8 1.8 0 1 0 -3.6 0M548.50 169.40a1.8 1.8 0 1 0 3.6 0a1.8 1.8 0 1 0 -3.6 0M545.60 168.20a1.8 1.8 0 1 0 3.6 0a1.8 1.8 0 1 0 -3.6 0M542.10 168.20a1.8 1.8 0 1 0 3.6 0a1.8 1.8 0 1 0 -3.6 0M572.20 168.80a1.8 1.8 0 1 0 3.6 0a1.8 1.8 0 1 0 -3.6 0M571.60 169.90a1.8 1.8 0 1 0 3.6 0a1.8 1.8 0 1 0 -3.6 0M564.10 171.10a1.8 1.8 0 1 0 3.6 0a1.8 1.8 0 1 0 -3.6 0M561.20 173.40a1.8 1.8 0 1 0 3.6 0a1.8 1.8 0 1 0 -3.6 0M558.90 174.00a1.8 1.8 0 1 0 3.6 0a1.8 1.8 0 1 0 -3.6 0M570.40 173.10a1.8 1.8 0 1 0 3.6 0a1.8 1.8 0 1 0 -3.6 0M575.10 173.10a1.8 1.8 0 1 0 3.6 0a1.8 1.8 0 1 0 -3.6 0M549.00 174.00a1.8 1.8 0 1 0 3.6 0a1.8 1.8 0 1 0 -3.6 0M546.70 174.60a1.8 1.8 0 1 0 3.6 0a1.8 1.8 0 1 0 -3.6 0M534.60 172.80a1.8 1.8 0 1 0 3.6 0a1.8 1.8 0 1 0 -3.6 0M537.50 171.70a1.8 1.8 0 1 0 3.6 0a1.8 1.8 0 1 0 -3.6 0M539.80 170.50a1.8 1.8 0 1 0 3.6 0a1.8 1.8 0 1 0 -3.6 0M536.30 174.60a1.8 1.8 0 1 0 3.6 0a1.8 1.8 0 1 0 -3.6 0M534.00 174.60a1.8 1.8 0 1 0 3.6 0a1.8 1.8 0 1 0 -3.6 0M539.80 173.40a1.8 1.8 0 1 0 3.6 0a1.8 1.8 0 1 0 -3.6 0M542.70 173.40a1.8 1.8 0 1 0 3.6 0a1.8 1.8 0 1 0 -3.6 0M532.80 175.70a1.8 1.8 0 1 0 3.6 0a1.8 1.8 0 1 0 -3.6 0M582.60 151.80a1.8 1.8 0 1 0 3.6 0a1.8 1.8 0 1 0 -3.6 0M586.20 150.50a1.8 1.8 0 1 0 3.6 0a1.8 1.8 0 1 0 -3.6 0M634.50 152.10a1.8 1.8 0 1 0 3.6 0a1.8 1.8 0 1 0 -3.6 0M586.70 159.10a1.8 1.8 0 1 0 3.6 0a1.8 1.8 0 1 0 -3.6 0M590.00 158.40a1.8 1.8 0 1 0 3.6 0a1.8 1.8 0 1 0 -3.6 0M588.40 174.80a1.8 1.8 0 1 0 3.6 0a1.8 1.8 0 1 0 -3.6 0M596.20 172.60a1.8 1.8 0 1 0 3.6 0a1.8 1.8 0 1 0 -3.6 0M597.30 174.20a1.8 1.8 0 1 0 3.6 0a1.8 1.8 0 1 0 -3.6 0M601.70 174.60a1.8 1.8 0 1 0 3.6 0a1.8 1.8 0 1 0 -3.6 0M605.20 174.20a1.8 1.8 0 1 0 3.6 0a1.8 1.8 0 1 0 -3.6 0M624.00 173.10a1.8 1.8 0 1 0 3.6 0a1.8 1.8 0 1 0 -3.6 0M533.91 174.25a1.8 1.8 0 1 0 3.6 0a1.8 1.8 0 1 0 -3.6 0M535.44 173.57a1.8 1.8 0 1 0 3.6 0a1.8 1.8 0 1 0 -3.6 0M536.37 172.29a1.8 1.8 0 1 0 3.6 0a1.8 1.8 0 1 0 -3.6 0M537.81 171.52a1.8 1.8 0 1 0 3.6 0a1.8 1.8 0 1 0 -3.6 0M538.98 170.48a1.8 1.8 0 1 0 3.6 0a1.8 1.8 0 1 0 -3.6 0M539.42 168.71a1.8 1.8 0 1 0 3.6 0a1.8 1.8 0 1 0 -3.6 0M540.50 167.57a1.8 1.8 0 1 0 3.6 0a1.8 1.8 0 1 0 -3.6 0M542.69 167.55a1.8 1.8 0 1 0 3.6 0a1.8 1.8 0 1 0 -3.6 0M543.11 165.75a1.8 1.8 0 1 0 3.6 0a1.8 1.8 0 1 0 -3.6 0M544.22 164.66a1.8 1.8 0 1 0 3.6 0a1.8 1.8 0 1 0 -3.6 0M546.33 164.55a1.8 1.8 0 1 0 3.6 0a1.8 1.8 0 1 0 -3.6 0M546.81 162.82a1.8 1.8 0 1 0 3.6 0a1.8 1.8 0 1 0 -3.6 0M548.42 162.22a1.8 1.8 0 1 0 3.6 0a1.8 1.8 0 1 0 -3.6 0M549.11 160.70a1.8 1.8 0 1 0 3.6 0a1.8 1.8 0 1 0 -3.6 0M550.46 159.84a1.8 1.8 0 1 0 3.6 0a1.8 1.8 0 1 0 -3.6 0M550.99 158.15a1.8 1.8 0 1 0 3.6 0a1.8 1.8 0 1 0 -3.6 0M552.75 157.70a1.8 1.8 0 1 0 3.6 0a1.8 1.8 0 1 0 -3.6 0M554.19 156.93a1.8 1.8 0 1 0 3.6 0a1.8 1.8 0 1 0 -3.6 0M554.90 155.43a1.8 1.8 0 1 0 3.6 0a1.8 1.8 0 1 0 -3.6 0M556.32 154.63a1.8 1.8 0 1 0 3.6 0a1.8 1.8 0 1 0 -3.6 0M557.38 153.48a1.8 1.8 0 1 0 3.6 0a1.8 1.8 0 1 0 -3.6 0M557.76 151.65a1.8 1.8 0 1 0 3.6 0a1.8 1.8 0 1 0 -3.6 0M559.78 151.46a1.8 1.8 0 1 0 3.6 0a1.8 1.8 0 1 0 -3.6 0M560.71 150.18a1.8 1.8 0 1 0 3.6 0a1.8 1.8 0 1 0 -3.6 0M561.49 148.75a1.8 1.8 0 1 0 3.6 0a1.8 1.8 0 1 0 -3.6 0M562.30 147.34a1.8 1.8 0 1 0 3.6 0a1.8 1.8 0 1 0 -3.6 0M564.50 147.33a1.8 1.8 0 1 0 3.6 0a1.8 1.8 0 1 0 -3.6 0M534.38 175.18a1.8 1.8 0 1 0 3.6 0a1.8 1.8 0 1 0 -3.6 0M537.30 175.17a1.8 1.8 0 1 0 3.6 0a1.8 1.8 0 1 0 -3.6 0M539.94 174.92a1.8 1.8 0 1 0 3.6 0a1.8 1.8 0 1 0 -3.6 0M542.44 174.96a1.8 1.8 0 1 0 3.6 0a1.8 1.8 0 1 0 -3.6 0M545.15 175.30a1.8 1.8 0 1 0 3.6 0a1.8 1.8 0 1 0 -3.6 0" stroke="#1f77b4" stroke-width="1.0" fill="none"/>
<line x1="528.74" y1="181.90" x2="722.20" y2="1.63" stroke="#ff7f0e" stroke-width="1.15" stroke-dasharray="2.83 1.22" stroke-opacity="0.75"/>
<path d="M537.00 181.90v2.7M581.20 181.90v2.7M625.40 181.90v2.7M669.60 181.90v2.7M713.80 181.90v2.7M528.30 174.21h-2.7M528.30 141.26h-2.7M528.30 108.31h-2.7M528.30 75.36h-2.7M528.30 42.41h-2.7M528.30 9.46h-2.7" stroke="#333" stroke-width="0.8" fill="none"/>
<rect x="528.3" y="1.4" width="193.90" height="180.50" fill="none" stroke="#555" stroke-width="0.8"/>
<text x="537.00" y="194.40" font-size="11.1" text-anchor="middle">0</text>
<text x="581.20" y="194.40" font-size="11.1" text-anchor="middle">25</text>
<text x="625.40" y="194.40" font-size="11.1" text-anchor="middle">50</text>
<text x="669.60" y="194.40" font-size="11.1" text-anchor="middle">75</text>
<text x="713.80" y="194.40" font-size="11.1" text-anchor="middle">100</text>
<text x="524.80" y="178.01" font-size="11.1" text-anchor="end">0</text>
<text x="524.80" y="145.06" font-size="11.1" text-anchor="end">20</text>
<text x="524.80" y="112.11" font-size="11.1" text-anchor="end">40</text>
<text x="524.80" y="79.16" font-size="11.1" text-anchor="end">60</text>
<text x="524.80" y="46.21" font-size="11.1" text-anchor="end">80</text>
<text x="524.80" y="13.26" font-size="11.1" text-anchor="end">100</text>
<text x="532.30" y="15.50" font-size="11.1" style="fill:#d62728;stroke:#d62728;stroke-width:0.05px">c)</text>
<text x="548.30" y="27.70" font-size="10.8">ΔR = 1</text>
<path d="M205.50 237.20a1.8 1.8 0 1 0 3.6 0a1.8 1.8 0 1 0 -3.6 0M207.90 240.20a1.8 1.8 0 1 0 3.6 0a1.8 1.8 0 1 0 -3.6 0M219.20 238.50a1.8 1.8 0 1 0 3.6 0a1.8 1.8 0 1 0 -3.6 0M220.90 236.90a1.8 1.8 0 1 0 3.6 0a1.8 1.8 0 1 0 -3.6 0M222.50 239.00a1.8 1.8 0 1 0 3.6 0a1.8 1.8 0 1 0 -3.6 0M220.00 240.20a1.8 1.8 0 1 0 3.6 0a1.8 1.8 0 1 0 -3.6 0M220.70 238.60a1.8 1.8 0 1 0 3.6 0a1.8 1.8 0 1 0 -3.6 0M178.70 249.90a1.8 1.8 0 1 0 3.6 0a1.8 1.8 0 1 0 -3.6 0M207.90 252.60a1.8 1.8 0 1 0 3.6 0a1.8 1.8 0 1 0 -3.6 0M217.30 250.70a1.8 1.8 0 1 0 3.6 0a1.8 1.8 0 1 0 -3.6 0M220.90 249.90a1.8 1.8 0 1 0 3.6 0a1.8 1.8 0 1 0 -3.6 0M221.20 252.00a1.8 1.8 0 1 0 3.6 0a1.8 1.8 0 1 0 -3.6 0M221.20 253.60a1.8 1.8 0 1 0 3.6 0a1.8 1.8 0 1 0 -3.6 0M163.30 264.10a1.8 1.8 0 1 0 3.6 0a1.8 1.8 0 1 0 -3.6 0M176.80 266.10a1.8 1.8 0 1 0 3.6 0a1.8 1.8 0 1 0 -3.6 0M192.50 264.00a1.8 1.8 0 1 0 3.6 0a1.8 1.8 0 1 0 -3.6 0M193.60 265.60a1.8 1.8 0 1 0 3.6 0a1.8 1.8 0 1 0 -3.6 0M190.90 266.90a1.8 1.8 0 1 0 3.6 0a1.8 1.8 0 1 0 -3.6 0M194.10 266.90a1.8 1.8 0 1 0 3.6 0a1.8 1.8 0 1 0 -3.6 0M192.80 265.40a1.8 1.8 0 1 0 3.6 0a1.8 1.8 0 1 0 -3.6 0M205.50 264.50a1.8 1.8 0 1 0 3.6 0a1.8 1.8 0 1 0 -3.6 0M207.60 264.50a1.8 1.8 0 1 0 3.6 0a1.8 1.8 0 1 0 -3.6 0M146.00 279.10a1.8 1.8 0 1 0 3.6 0a1.8 1.8 0 1 0 -3.6 0M161.40 277.40a1.8 1.8 0 1 0 3.6 0a1.8 1.8 0 1 0 -3.6 0M177.90 277.40a1.8 1.8 0 1 0 3.6 0a1.8 1.8 0 1 0 -3.6 0M179.50 278.60a1.8 1.8 0 1 0 3.6 0a1.8 1.8 0 1 0 -3.6 0M177.10 278.60a1.8 1.8 0 1 0 3.6 0a1.8 1.8 0 1 0 -3.6 0M178.70 279.50a1.8 1.8 0 1 0 3.6 0a1.8 1.8 0 1 0 -3.6 0M178.30 278.30a1.8 1.8 0 1 0 3.6 0a1.8 1.8 0 1 0 -3.6 0M191.70 279.90a1.8 1.8 0 1 0 3.6 0a1.8 1.8 0 1 0 -3.6 0M207.10 277.40a1.8 1.8 0 1 0 3.6 0a1.8 1.8 0 1 0 -3.6 0M207.10 277.60a1.8 1.8 0 1 0 3.6 0a1.8 1.8 0 1 0 -3.6 0M221.30 278.70a1.8 1.8 0 1 0 3.6 0a1.8 1.8 0 1 0 -3.6 0M162.50 292.00a1.8 1.8 0 1 0 3.6 0a1.8 1.8 0 1 0 -3.6 0M160.90 293.60a1.8 1.8 0 1 0 3.6 0a1.8 1.8 0 1 0 -3.6 0M164.10 290.40a1.8 1.8 0 1 0 3.6 0a1.8 1.8 0 1 0 -3.6 0M166.60 289.90a1.8 1.8 0 1 0 3.6 0a1.8 1.8 0 1 0 -3.6 0M162.80 291.40a1.8 1.8 0 1 0 3.6 0a1.8 1.8 0 1 0 -3.6 0M161.70 292.80a1.8 1.8 0 1 0 3.6 0a1.8 1.8 0 1 0 -3.6 0M178.40 292.50a1.8 1.8 0 1 0 3.6 0a1.8 1.8 0 1 0 -3.6 0M179.50 294.10a1.8 1.8 0 1 0 3.6 0a1.8 1.8 0 1 0 -3.6 0M190.90 290.90a1.8 1.8 0 1 0 3.6 0a1.8 1.8 0 1 0 -3.6 0M192.50 294.10a1.8 1.8 0 1 0 3.6 0a1.8 1.8 0 1 0 -3.6 0M208.20 292.80a1.8 1.8 0 1 0 3.6 0a1.8 1.8 0 1 0 -3.6 0M219.20 292.80a1.8 1.8 0 1 0 3.6 0a1.8 1.8 0 1 0 -3.6 0M221.70 291.50a1.8 1.8 0 1 0 3.6 0a1.8 1.8 0 1 0 -3.6 0M223.60 293.60a1.8 1.8 0 1 0 3.6 0a1.8 1.8 0 1 0 -3.6 0M108.80 291.30a1.8 1.8 0 1 0 3.6 0a1.8 1.8 0 1 0 -3.6 0M110.30 292.00a1.8 1.8 0 1 0 3.6 0a1.8 1.8 0 1 0 -3.6 0M85.50 307.10a1.8 1.8 0 1 0 3.6 0a1.8 1.8 0 1 0 -3.6 0M127.60 307.60a1.8 1.8 0 1 0 3.6 0a1.8 1.8 0 1 0 -3.6 0M130.20 306.40a1.8 1.8 0 1 0 3.6 0a1.8 1.8 0 1 0 -3.6 0M146.50 303.80a1.8 1.8 0 1 0 3.6 0a1.8 1.8 0 1 0 -3.6 0M144.90 307.10a1.8 1.8 0 1 0 3.6 0a1.8 1.8 0 1 0 -3.6 0M147.20 306.80a1.8 1.8 0 1 0 3.6 0a1.8 1.8 0 1 0 -3.6 0M148.30 308.60a1.8 1.8 0 1 0 3.6 0a1.8 1.8 0 1 0 -3.6 0M146.70 306.30a1.8 1.8 0 1 0 3.6 0a1.8 1.8 0 1 0 -3.6 0M160.80 308.60a1.8 1.8 0 1 0 3.6 0a1.8 1.8 0 1 0 -3.6 0M162.70 307.40a1.8 1.8 0 1 0 3.6 0a1.8 1.8 0 1 0 -3.6 0M164.50 305.90a1.8 1.8 0 1 0 3.6 0a1.8 1.8 0 1 0 -3.6 0M85.80 323.70a1.8 1.8 0 1 0 3.6 0a1.8 1.8 0 1 0 -3.6 0M128.40 323.70a1.8 1.8 0 1 0 3.6 0a1.8 1.8 0 1 0 -3.6 0M129.90 322.60a1.8 1.8 0 1 0 3.6 0a1.8 1.8 0 1 0 -3.6 0M132.60 321.90a1.8 1.8 0 1 0 3.6 0a1.8 1.8 0 1 0 -3.6 0M146.20 324.40a1.8 1.8 0 1 0 3.6 0a1.8 1.8 0 1 0 -3.6 0M147.70 322.50a1.8 1.8 0 1 0 3.6 0a1.8 1.8 0 1 0 -3.6 0M164.50 323.70a1.8 1.8 0 1 0 3.6 0a1.8 1.8 0 1 0 -3.6 0M111.80 341.00a1.8 1.8 0 1 0 3.6 0a1.8 1.8 0 1 0 -3.6 0M110.30 343.30a1.8 1.8 0 1 0 3.6 0a1.8 1.8 0 1 0 -3.6 0M128.10 343.30a1.8 1.8 0 1 0 3.6 0a1.8 1.8 0 1 0 -3.6 0M131.10 342.50a1.8 1.8 0 1 0 3.6 0a1.8 1.8 0 1 0 -3.6 0M162.30 341.40a1.8 1.8 0 1 0 3.6 0a1.8 1.8 0 1 0 -3.6 0M162.30 344.00a1.8 1.8 0 1 0 3.6 0a1.8 1.8 0 1 0 -3.6 0M129.20 250.90a1.8 1.8 0 1 0 3.6 0a1.8 1.8 0 1 0 -3.6 0M51.40 278.60a1.8 1.8 0 1 0 3.6 0a1.8 1.8 0 1 0 -3.6 0M51.40 306.50a1.8 1.8 0 1 0 3.6 0a1.8 1.8 0 1 0 -3.6 0M53.30 308.10a1.8 1.8 0 1 0 3.6 0a1.8 1.8 0 1 0 -3.6 0M54.20 363.00a1.8 1.8 0 1 0 3.6 0a1.8 1.8 0 1 0 -3.6 0M87.10 363.40a1.8 1.8 0 1 0 3.6 0a1.8 1.8 0 1 0 -3.6 0M110.10 363.70a1.8 1.8 0 1 0 3.6 0a1.8 1.8 0 1 0 -3.6 0M51.40 394.00a1.8 1.8 0 1 0 3.6 0a1.8 1.8 0 1 0 -3.6 0M53.70 393.20a1.8 1.8 0 1 0 3.6 0a1.8 1.8 0 1 0 -3.6 0M54.50 394.80a1.8 1.8 0 1 0 3.6 0a1.8 1.8 0 1 0 -3.6 0M52.20 395.90a1.8 1.8 0 1 0 3.6 0a1.8 1.8 0 1 0 -3.6 0M54.80 397.10a1.8 1.8 0 1 0 3.6 0a1.8 1.8 0 1 0 -3.6 0M50.60 396.30a1.8 1.8 0 1 0 3.6 0a1.8 1.8 0 1 0 -3.6 0M53.00 395.00a1.8 1.8 0 1 0 3.6 0a1.8 1.8 0 1 0 -3.6 0M85.30 395.90a1.8 1.8 0 1 0 3.6 0a1.8 1.8 0 1 0 -3.6 0M87.10 395.20a1.8 1.8 0 1 0 3.6 0a1.8 1.8 0 1 0 -3.6 0M109.20 394.00a1.8 1.8 0 1 0 3.6 0a1.8 1.8 0 1 0 -3.6 0M128.30 395.60a1.8 1.8 0 1 0 3.6 0a1.8 1.8 0 1 0 -3.6 0M128.70 396.00a1.8 1.8 0 1 0 3.6 0a1.8 1.8 0 1 0 -3.6 0M146.30 364.80a1.8 1.8 0 1 0 3.6 0a1.8 1.8 0 1 0 -3.6 0M220.50 364.00a1.8 1.8 0 1 0 3.6 0a1.8 1.8 0 1 0 -3.6 0M146.80 393.10a1.8 1.8 0 1 0 3.6 0a1.8 1.8 0 1 0 -3.6 0M147.50 395.40a1.8 1.8 0 1 0 3.6 0a1.8 1.8 0 1 0 -3.6 0M161.50 395.00a1.8 1.8 0 1 0 3.6 0a1.8 1.8 0 1 0 -3.6 0M163.00 393.40a1.8 1.8 0 1 0 3.6 0a1.8 1.8 0 1 0 -3.6 0M163.80 394.20a1.8 1.8 0 1 0 3.6 0a1.8 1.8 0 1 0 -3.6 0M162.30 395.70a1.8 1.8 0 1 0 3.6 0a1.8 1.8 0 1 0 -3.6 0M178.20 394.20a1.8 1.8 0 1 0 3.6 0a1.8 1.8 0 1 0 -3.6 0M178.80 393.90a1.8 1.8 0 1 0 3.6 0a1.8 1.8 0 1 0 -3.6 0M178.10 308.70a1.8 1.8 0 1 0 3.6 0a1.8 1.8 0 1 0 -3.6 0M194.00 307.70a1.8 1.8 0 1 0 3.6 0a1.8 1.8 0 1 0 -3.6 0M192.70 324.00a1.8 1.8 0 1 0 3.6 0a1.8 1.8 0 1 0 -3.6 0M204.20 324.50a1.8 1.8 0 1 0 3.6 0a1.8 1.8 0 1 0 -3.6 0M191.37 265.08a1.8 1.8 0 1 0 3.6 0a1.8 1.8 0 1 0 -3.6 0M193.44 264.94a1.8 1.8 0 1 0 3.6 0a1.8 1.8 0 1 0 -3.6 0M179.07 276.85a1.8 1.8 0 1 0 3.6 0a1.8 1.8 0 1 0 -3.6 0M178.42 279.20a1.8 1.8 0 1 0 3.6 0a1.8 1.8 0 1 0 -3.6 0M163.05 291.66a1.8 1.8 0 1 0 3.6 0a1.8 1.8 0 1 0 -3.6 0M164.77 291.06a1.8 1.8 0 1 0 3.6 0a1.8 1.8 0 1 0 -3.6 0M162.81 293.05a1.8 1.8 0 1 0 3.6 0a1.8 1.8 0 1 0 -3.6 0M164.52 292.84a1.8 1.8 0 1 0 3.6 0a1.8 1.8 0 1 0 -3.6 0M147.00 305.14a1.8 1.8 0 1 0 3.6 0a1.8 1.8 0 1 0 -3.6 0M144.88 307.00a1.8 1.8 0 1 0 3.6 0a1.8 1.8 0 1 0 -3.6 0M146.64 306.77a1.8 1.8 0 1 0 3.6 0a1.8 1.8 0 1 0 -3.6 0M146.56 308.58a1.8 1.8 0 1 0 3.6 0a1.8 1.8 0 1 0 -3.6 0M52.76 393.50a1.8 1.8 0 1 0 3.6 0a1.8 1.8 0 1 0 -3.6 0M51.34 394.75a1.8 1.8 0 1 0 3.6 0a1.8 1.8 0 1 0 -3.6 0M53.11 395.05a1.8 1.8 0 1 0 3.6 0a1.8 1.8 0 1 0 -3.6 0M54.28 395.27a1.8 1.8 0 1 0 3.6 0a1.8 1.8 0 1 0 -3.6 0M52.68 396.56a1.8 1.8 0 1 0 3.6 0a1.8 1.8 0 1 0 -3.6 0M219.67 238.94a1.8 1.8 0 1 0 3.6 0a1.8 1.8 0 1 0 -3.6 0M221.04 239.22a1.8 1.8 0 1 0 3.6 0a1.8 1.8 0 1 0 -3.6 0" stroke="#1f77b4" stroke-width="1.0" fill="none"/>
<line x1="47.69" y1="401.50" x2="241.70" y2="221.34" stroke="#ff7f0e" stroke-width="1.15" stroke-dasharray="2.83 1.22" stroke-opacity="0.75"/>
<path d="M59.54 401.50v2.7M108.18 401.50v2.7M156.82 401.50v2.7M205.46 401.50v2.7M47.50 390.50h-2.7M47.50 367.92h-2.7M47.50 345.33h-2.7M47.50 322.75h-2.7M47.50 300.16h-2.7M47.50 277.58h-2.7M47.50 254.99h-2.7M47.50 232.41h-2.7" stroke="#333" stroke-width="0.8" fill="none"/>
<rect x="47.5" y="220.8" width="194.20" height="180.70" fill="none" stroke="#555" stroke-width="0.8"/>
<text x="59.54" y="414.00" font-size="11.1" text-anchor="middle">20</text>
<text x="108.18" y="414.00" font-size="11.1" text-anchor="middle">40</text>
<text x="156.82" y="414.00" font-size="11.1" text-anchor="middle">60</text>
<text x="205.46" y="414.00" font-size="11.1" text-anchor="middle">80</text>
<text x="44.00" y="394.30" font-size="11.1" text-anchor="end">20</text>
<text x="44.00" y="371.72" font-size="11.1" text-anchor="end">30</text>
<text x="44.00" y="349.13" font-size="11.1" text-anchor="end">40</text>
<text x="44.00" y="326.55" font-size="11.1" text-anchor="end">50</text>
<text x="44.00" y="303.96" font-size="11.1" text-anchor="end">60</text>
<text x="44.00" y="281.38" font-size="11.1" text-anchor="end">70</text>
<text x="44.00" y="258.79" font-size="11.1" text-anchor="end">80</text>
<text x="44.00" y="236.21" font-size="11.1" text-anchor="end">90</text>
<text x="51.50" y="234.90" font-size="11.1" style="fill:#d62728;stroke:#d62728;stroke-width:0.05px">d)</text>
<text x="67.50" y="247.80" font-size="10.8">ΔR = 1</text>
<path d="M408.70 252.50a1.8 1.8 0 1 0 3.6 0a1.8 1.8 0 1 0 -3.6 0M410.70 251.50a1.8 1.8 0 1 0 3.6 0a1.8 1.8 0 1 0 -3.6 0M412.20 253.00a1.8 1.8 0 1 0 3.6 0a1.8 1.8 0 1 0 -3.6 0M409.20 254.50a1.8 1.8 0 1 0 3.6 0a1.8 1.8 0 1 0 -3.6 0M411.20 254.50a1.8 1.8 0 1 0 3.6 0a1.8 1.8 0 1 0 -3.6 0M407.90 256.30a1.8 1.8 0 1 0 3.6 0a1.8 1.8 0 1 0 -3.6 0M410.20 256.00a1.8 1.8 0 1 0 3.6 0a1.8 1.8 0 1 0 -3.6 0M409.70 253.00a1.8 1.8 0 1 0 3.6 0a1.8 1.8 0 1 0 -3.6 0M411.70 252.00a1.8 1.8 0 1 0 3.6 0a1.8 1.8 0 1 0 -3.6 0M441.70 251.00a1.8 1.8 0 1 0 3.6 0a1.8 1.8 0 1 0 -3.6 0M444.20 250.00a1.8 1.8 0 1 0 3.6 0a1.8 1.8 0 1 0 -3.6 0M446.70 251.50a1.8 1.8 0 1 0 3.6 0a1.8 1.8 0 1 0 -3.6 0M441.20 254.00a1.8 1.8 0 1 0 3.6 0a1.8 1.8 0 1 0 -3.6 0M443.70 253.00a1.8 1.8 0 1 0 3.6 0a1.8 1.8 0 1 0 -3.6 0M446.20 254.00a1.8 1.8 0 1 0 3.6 0a1.8 1.8 0 1 0 -3.6 0M448.20 253.50a1.8 1.8 0 1 0 3.6 0a1.8 1.8 0 1 0 -3.6 0M441.70 256.50a1.8 1.8 0 1 0 3.6 0a1.8 1.8 0 1 0 -3.6 0M444.20 256.00a1.8 1.8 0 1 0 3.6 0a1.8 1.8 0 1 0 -3.6 0M446.70 257.00a1.8 1.8 0 1 0 3.6 0a1.8 1.8 0 1 0 -3.6 0M443.90 248.60a1.8 1.8 0 1 0 3.6 0a1.8 1.8 0 1 0 -3.6 0M446.50 258.00a1.8 1.8 0 1 0 3.6 0a1.8 1.8 0 1 0 -3.6 0M442.20 252.50a1.8 1.8 0 1 0 3.6 0a1.8 1.8 0 1 0 -3.6 0M445.20 255.00a1.8 1.8 0 1 0 3.6 0a1.8 1.8 0 1 0 -3.6 0M447.70 255.50a1.8 1.8 0 1 0 3.6 0a1.8 1.8 0 1 0 -3.6 0M444.70 252.00a1.8 1.8 0 1 0 3.6 0a1.8 1.8 0 1 0 -3.6 0M409.70 283.50a1.8 1.8 0 1 0 3.6 0a1.8 1.8 0 1 0 -3.6 0M407.70 285.50a1.8 1.8 0 1 0 3.6 0a1.8 1.8 0 1 0 -3.6 0M411.20 286.00a1.8 1.8 0 1 0 3.6 0a1.8 1.8 0 1 0 -3.6 0M409.20 288.00a1.8 1.8 0 1 0 3.6 0a1.8 1.8 0 1 0 -3.6 0M412.20 288.50a1.8 1.8 0 1 0 3.6 0a1.8 1.8 0 1 0 -3.6 0M409.20 290.00a1.8 1.8 0 1 0 3.6 0a1.8 1.8 0 1 0 -3.6 0M410.70 285.00a1.8 1.8 0 1 0 3.6 0a1.8 1.8 0 1 0 -3.6 0M408.70 286.50a1.8 1.8 0 1 0 3.6 0a1.8 1.8 0 1 0 -3.6 0M446.70 284.50a1.8 1.8 0 1 0 3.6 0a1.8 1.8 0 1 0 -3.6 0M442.70 286.50a1.8 1.8 0 1 0 3.6 0a1.8 1.8 0 1 0 -3.6 0M445.20 286.50a1.8 1.8 0 1 0 3.6 0a1.8 1.8 0 1 0 -3.6 0M447.70 286.50a1.8 1.8 0 1 0 3.6 0a1.8 1.8 0 1 0 -3.6 0M442.20 288.00a1.8 1.8 0 1 0 3.6 0a1.8 1.8 0 1 0 -3.6 0M444.70 288.30a1.8 1.8 0 1 0 3.6 0a1.8 1.8 0 1 0 -3.6 0M447.20 288.00a1.8 1.8 0 1 0 3.6 0a1.8 1.8 0 1 0 -3.6 0M444.20 285.50a1.8 1.8 0 1 0 3.6 0a1.8 1.8 0 1 0 -3.6 0M373.50 319.30a1.8 1.8 0 1 0 3.6 0a1.8 1.8 0 1 0 -3.6 0M375.40 317.70a1.8 1.8 0 1 0 3.6 0a1.8 1.8 0 1 0 -3.6 0M377.00 318.40a1.8 1.8 0 1 0 3.6 0a1.8 1.8 0 1 0 -3.6 0M376.50 322.90a1.8 1.8 0 1 0 3.6 0a1.8 1.8 0 1 0 -3.6 0M374.70 319.50a1.8 1.8 0 1 0 3.6 0a1.8 1.8 0 1 0 -3.6 0M375.70 320.50a1.8 1.8 0 1 0 3.6 0a1.8 1.8 0 1 0 -3.6 0M305.80 350.70a1.8 1.8 0 1 0 3.6 0a1.8 1.8 0 1 0 -3.6 0M335.20 352.00a1.8 1.8 0 1 0 3.6 0a1.8 1.8 0 1 0 -3.6 0M337.20 351.00a1.8 1.8 0 1 0 3.6 0a1.8 1.8 0 1 0 -3.6 0M339.20 352.00a1.8 1.8 0 1 0 3.6 0a1.8 1.8 0 1 0 -3.6 0M336.70 353.50a1.8 1.8 0 1 0 3.6 0a1.8 1.8 0 1 0 -3.6 0M339.20 353.80a1.8 1.8 0 1 0 3.6 0a1.8 1.8 0 1 0 -3.6 0M341.20 354.50a1.8 1.8 0 1 0 3.6 0a1.8 1.8 0 1 0 -3.6 0M338.20 352.50a1.8 1.8 0 1 0 3.6 0a1.8 1.8 0 1 0 -3.6 0M374.20 352.60a1.8 1.8 0 1 0 3.6 0a1.8 1.8 0 1 0 -3.6 0M373.50 355.00a1.8 1.8 0 1 0 3.6 0a1.8 1.8 0 1 0 -3.6 0M336.90 383.30a1.8 1.8 0 1 0 3.6 0a1.8 1.8 0 1 0 -3.6 0M373.00 384.20a1.8 1.8 0 1 0 3.6 0a1.8 1.8 0 1 0 -3.6 0M375.80 386.60a1.8 1.8 0 1 0 3.6 0a1.8 1.8 0 1 0 -3.6 0M298.60 383.50a1.8 1.8 0 1 0 3.6 0a1.8 1.8 0 1 0 -3.6 0M308.40 387.25a1.8 1.8 0 1 0 3.6 0a1.8 1.8 0 1 0 -3.6 0M308.40 381.40a1.8 1.8 0 1 0 3.6 0a1.8 1.8 0 1 0 -3.6 0M301.70 383.00a1.8 1.8 0 1 0 3.6 0a1.8 1.8 0 1 0 -3.6 0M304.20 382.50a1.8 1.8 0 1 0 3.6 0a1.8 1.8 0 1 0 -3.6 0M306.70 382.50a1.8 1.8 0 1 0 3.6 0a1.8 1.8 0 1 0 -3.6 0M301.20 386.00a1.8 1.8 0 1 0 3.6 0a1.8 1.8 0 1 0 -3.6 0M303.70 385.50a1.8 1.8 0 1 0 3.6 0a1.8 1.8 0 1 0 -3.6 0M306.20 385.00a1.8 1.8 0 1 0 3.6 0a1.8 1.8 0 1 0 -3.6 0M302.20 388.50a1.8 1.8 0 1 0 3.6 0a1.8 1.8 0 1 0 -3.6 0M304.70 388.50a1.8 1.8 0 1 0 3.6 0a1.8 1.8 0 1 0 -3.6 0M307.20 387.50a1.8 1.8 0 1 0 3.6 0a1.8 1.8 0 1 0 -3.6 0M408.30 321.20a1.8 1.8 0 1 0 3.6 0a1.8 1.8 0 1 0 -3.6 0M443.20 321.70a1.8 1.8 0 1 0 3.6 0a1.8 1.8 0 1 0 -3.6 0M449.60 316.50a1.8 1.8 0 1 0 3.6 0a1.8 1.8 0 1 0 -3.6 0M407.90 350.70a1.8 1.8 0 1 0 3.6 0a1.8 1.8 0 1 0 -3.6 0M410.70 350.00a1.8 1.8 0 1 0 3.6 0a1.8 1.8 0 1 0 -3.6 0M446.80 350.70a1.8 1.8 0 1 0 3.6 0a1.8 1.8 0 1 0 -3.6 0M446.10 353.10a1.8 1.8 0 1 0 3.6 0a1.8 1.8 0 1 0 -3.6 0M447.20 355.40a1.8 1.8 0 1 0 3.6 0a1.8 1.8 0 1 0 -3.6 0M408.30 384.40a1.8 1.8 0 1 0 3.6 0a1.8 1.8 0 1 0 -3.6 0M411.40 383.70a1.8 1.8 0 1 0 3.6 0a1.8 1.8 0 1 0 -3.6 0M409.50 386.80a1.8 1.8 0 1 0 3.6 0a1.8 1.8 0 1 0 -3.6 0M407.90 389.20a1.8 1.8 0 1 0 3.6 0a1.8 1.8 0 1 0 -3.6 0M443.70 383.70a1.8 1.8 0 1 0 3.6 0a1.8 1.8 0 1 0 -3.6 0M448.40 386.80a1.8 1.8 0 1 0 3.6 0a1.8 1.8 0 1 0 -3.6 0M301.80 253.90a1.8 1.8 0 1 0 3.6 0a1.8 1.8 0 1 0 -3.6 0M302.20 254.30a1.8 1.8 0 1 0 3.6 0a1.8 1.8 0 1 0 -3.6 0M338.00 256.00a1.8 1.8 0 1 0 3.6 0a1.8 1.8 0 1 0 -3.6 0M304.95 288.90a1.8 1.8 0 1 0 3.6 0a1.8 1.8 0 1 0 -3.6 0M373.70 285.60a1.8 1.8 0 1 0 3.6 0a1.8 1.8 0 1 0 -3.6 0M372.30 288.60a1.8 1.8 0 1 0 3.6 0a1.8 1.8 0 1 0 -3.6 0M409.49 252.24a1.8 1.8 0 1 0 3.6 0a1.8 1.8 0 1 0 -3.6 0M408.18 253.58a1.8 1.8 0 1 0 3.6 0a1.8 1.8 0 1 0 -3.6 0M409.75 253.71a1.8 1.8 0 1 0 3.6 0a1.8 1.8 0 1 0 -3.6 0M411.61 253.95a1.8 1.8 0 1 0 3.6 0a1.8 1.8 0 1 0 -3.6 0M409.47 255.17a1.8 1.8 0 1 0 3.6 0a1.8 1.8 0 1 0 -3.6 0M411.74 255.45a1.8 1.8 0 1 0 3.6 0a1.8 1.8 0 1 0 -3.6 0M445.32 249.31a1.8 1.8 0 1 0 3.6 0a1.8 1.8 0 1 0 -3.6 0M442.94 250.46a1.8 1.8 0 1 0 3.6 0a1.8 1.8 0 1 0 -3.6 0M445.23 250.92a1.8 1.8 0 1 0 3.6 0a1.8 1.8 0 1 0 -3.6 0M446.87 250.62a1.8 1.8 0 1 0 3.6 0a1.8 1.8 0 1 0 -3.6 0M441.57 252.57a1.8 1.8 0 1 0 3.6 0a1.8 1.8 0 1 0 -3.6 0M443.31 252.26a1.8 1.8 0 1 0 3.6 0a1.8 1.8 0 1 0 -3.6 0M444.95 252.43a1.8 1.8 0 1 0 3.6 0a1.8 1.8 0 1 0 -3.6 0M446.91 252.85a1.8 1.8 0 1 0 3.6 0a1.8 1.8 0 1 0 -3.6 0M441.81 254.28a1.8 1.8 0 1 0 3.6 0a1.8 1.8 0 1 0 -3.6 0M443.21 254.09a1.8 1.8 0 1 0 3.6 0a1.8 1.8 0 1 0 -3.6 0M444.68 253.92a1.8 1.8 0 1 0 3.6 0a1.8 1.8 0 1 0 -3.6 0M446.73 254.12a1.8 1.8 0 1 0 3.6 0a1.8 1.8 0 1 0 -3.6 0M443.17 256.27a1.8 1.8 0 1 0 3.6 0a1.8 1.8 0 1 0 -3.6 0M445.02 256.04a1.8 1.8 0 1 0 3.6 0a1.8 1.8 0 1 0 -3.6 0M446.57 255.67a1.8 1.8 0 1 0 3.6 0a1.8 1.8 0 1 0 -3.6 0M444.88 257.50a1.8 1.8 0 1 0 3.6 0a1.8 1.8 0 1 0 -3.6 0M409.37 285.38a1.8 1.8 0 1 0 3.6 0a1.8 1.8 0 1 0 -3.6 0M411.21 285.42a1.8 1.8 0 1 0 3.6 0a1.8 1.8 0 1 0 -3.6 0M407.89 286.80a1.8 1.8 0 1 0 3.6 0a1.8 1.8 0 1 0 -3.6 0M409.21 287.34a1.8 1.8 0 1 0 3.6 0a1.8 1.8 0 1 0 -3.6 0M411.13 286.91a1.8 1.8 0 1 0 3.6 0a1.8 1.8 0 1 0 -3.6 0M409.90 288.83a1.8 1.8 0 1 0 3.6 0a1.8 1.8 0 1 0 -3.6 0M411.54 288.83a1.8 1.8 0 1 0 3.6 0a1.8 1.8 0 1 0 -3.6 0M441.92 286.17a1.8 1.8 0 1 0 3.6 0a1.8 1.8 0 1 0 -3.6 0M443.78 286.21a1.8 1.8 0 1 0 3.6 0a1.8 1.8 0 1 0 -3.6 0M445.30 286.38a1.8 1.8 0 1 0 3.6 0a1.8 1.8 0 1 0 -3.6 0M447.64 286.66a1.8 1.8 0 1 0 3.6 0a1.8 1.8 0 1 0 -3.6 0M375.04 318.17a1.8 1.8 0 1 0 3.6 0a1.8 1.8 0 1 0 -3.6 0M375.16 320.06a1.8 1.8 0 1 0 3.6 0a1.8 1.8 0 1 0 -3.6 0M376.87 320.05a1.8 1.8 0 1 0 3.6 0a1.8 1.8 0 1 0 -3.6 0M335.41 353.18a1.8 1.8 0 1 0 3.6 0a1.8 1.8 0 1 0 -3.6 0M336.94 352.78a1.8 1.8 0 1 0 3.6 0a1.8 1.8 0 1 0 -3.6 0M338.35 353.06a1.8 1.8 0 1 0 3.6 0a1.8 1.8 0 1 0 -3.6 0M340.43 353.13a1.8 1.8 0 1 0 3.6 0a1.8 1.8 0 1 0 -3.6 0M303.08 381.76a1.8 1.8 0 1 0 3.6 0a1.8 1.8 0 1 0 -3.6 0M301.56 383.45a1.8 1.8 0 1 0 3.6 0a1.8 1.8 0 1 0 -3.6 0M303.23 383.66a1.8 1.8 0 1 0 3.6 0a1.8 1.8 0 1 0 -3.6 0M304.64 383.76a1.8 1.8 0 1 0 3.6 0a1.8 1.8 0 1 0 -3.6 0M306.38 383.70a1.8 1.8 0 1 0 3.6 0a1.8 1.8 0 1 0 -3.6 0M299.40 385.21a1.8 1.8 0 1 0 3.6 0a1.8 1.8 0 1 0 -3.6 0M301.40 385.73a1.8 1.8 0 1 0 3.6 0a1.8 1.8 0 1 0 -3.6 0M302.94 385.31a1.8 1.8 0 1 0 3.6 0a1.8 1.8 0 1 0 -3.6 0M305.04 385.81a1.8 1.8 0 1 0 3.6 0a1.8 1.8 0 1 0 -3.6 0M306.75 385.43a1.8 1.8 0 1 0 3.6 0a1.8 1.8 0 1 0 -3.6 0M301.78 386.93a1.8 1.8 0 1 0 3.6 0a1.8 1.8 0 1 0 -3.6 0M303.45 387.10a1.8 1.8 0 1 0 3.6 0a1.8 1.8 0 1 0 -3.6 0M304.70 386.98a1.8 1.8 0 1 0 3.6 0a1.8 1.8 0 1 0 -3.6 0M306.57 387.47a1.8 1.8 0 1 0 3.6 0a1.8 1.8 0 1 0 -3.6 0M302.98 389.06a1.8 1.8 0 1 0 3.6 0a1.8 1.8 0 1 0 -3.6 0" stroke="#1f77b4" stroke-width="1.0" fill="none"/>
<line x1="288.00" y1="401.50" x2="482.10" y2="221.49" stroke="#ff7f0e" stroke-width="1.15" stroke-dasharray="2.83 1.22" stroke-opacity="0.75"/>
<path d="M288.00 401.50v2.7M358.74 401.50v2.7M429.47 401.50v2.7M288.00 401.50h-2.7M288.00 368.70h-2.7M288.00 335.90h-2.7M288.00 303.10h-2.7M288.00 270.30h-2.7M288.00 237.50h-2.7" stroke="#333" stroke-width="0.8" fill="none"/>
<rect x="288.0" y="220.8" width="194.10" height="180.70" fill="none" stroke="#555" stroke-width="0.8"/>
<text x="288.00" y="414.00" font-size="11.1" text-anchor="middle">0</text>
<text x="358.74" y="414.00" font-size="11.1" text-anchor="middle">20</text>
<text x="429.47" y="414.00" font-size="11.1" text-anchor="middle">40</text>
<text x="284.50" y="405.30" font-size="11.1" text-anchor="end">0</text>
<text x="284.50" y="372.50" font-size="11.1" text-anchor="end">10</text>
<text x="284.50" y="339.70" font-size="11.1" text-anchor="end">20</text>
<text x="284.50" y="306.90" font-size="11.1" text-anchor="end">30</text>
<text x="284.50" y="274.10" font-size="11.1" text-anchor="end">40</text>
<text x="284.50" y="241.30" font-size="11.1" text-anchor="end">50</text>
<text x="292.00" y="234.90" font-size="11.1" style="fill:#d62728;stroke:#d62728;stroke-width:0.05px">e)</text>
<text x="308.00" y="247.80" font-size="10.8">ΔR = 1</text>
<path d="M542.70 232.50a1.8 1.8 0 1 0 3.6 0a1.8 1.8 0 1 0 -3.6 0M544.20 233.50a1.8 1.8 0 1 0 3.6 0a1.8 1.8 0 1 0 -3.6 0M545.20 235.50a1.8 1.8 0 1 0 3.6 0a1.8 1.8 0 1 0 -3.6 0M543.70 235.00a1.8 1.8 0 1 0 3.6 0a1.8 1.8 0 1 0 -3.6 0M623.50 232.50a1.8 1.8 0 1 0 3.6 0a1.8 1.8 0 1 0 -3.6 0M626.70 232.70a1.8 1.8 0 1 0 3.6 0a1.8 1.8 0 1 0 -3.6 0M624.70 234.50a1.8 1.8 0 1 0 3.6 0a1.8 1.8 0 1 0 -3.6 0M627.20 235.00a1.8 1.8 0 1 0 3.6 0a1.8 1.8 0 1 0 -3.6 0M625.20 233.50a1.8 1.8 0 1 0 3.6 0a1.8 1.8 0 1 0 -3.6 0M650.70 232.50a1.8 1.8 0 1 0 3.6 0a1.8 1.8 0 1 0 -3.6 0M649.20 234.50a1.8 1.8 0 1 0 3.6 0a1.8 1.8 0 1 0 -3.6 0M650.20 236.00a1.8 1.8 0 1 0 3.6 0a1.8 1.8 0 1 0 -3.6 0M651.70 234.00a1.8 1.8 0 1 0 3.6 0a1.8 1.8 0 1 0 -3.6 0M650.20 233.80a1.8 1.8 0 1 0 3.6 0a1.8 1.8 0 1 0 -3.6 0M703.70 232.00a1.8 1.8 0 1 0 3.6 0a1.8 1.8 0 1 0 -3.6 0M706.20 231.50a1.8 1.8 0 1 0 3.6 0a1.8 1.8 0 1 0 -3.6 0M708.20 233.00a1.8 1.8 0 1 0 3.6 0a1.8 1.8 0 1 0 -3.6 0M703.70 235.00a1.8 1.8 0 1 0 3.6 0a1.8 1.8 0 1 0 -3.6 0M706.20 235.50a1.8 1.8 0 1 0 3.6 0a1.8 1.8 0 1 0 -3.6 0M707.70 236.00a1.8 1.8 0 1 0 3.6 0a1.8 1.8 0 1 0 -3.6 0M705.20 233.50a1.8 1.8 0 1 0 3.6 0a1.8 1.8 0 1 0 -3.6 0M705.70 237.00a1.8 1.8 0 1 0 3.6 0a1.8 1.8 0 1 0 -3.6 0M704.70 234.00a1.8 1.8 0 1 0 3.6 0a1.8 1.8 0 1 0 -3.6 0M707.20 234.00a1.8 1.8 0 1 0 3.6 0a1.8 1.8 0 1 0 -3.6 0M623.70 286.50a1.8 1.8 0 1 0 3.6 0a1.8 1.8 0 1 0 -3.6 0M625.70 286.20a1.8 1.8 0 1 0 3.6 0a1.8 1.8 0 1 0 -3.6 0M627.40 286.80a1.8 1.8 0 1 0 3.6 0a1.8 1.8 0 1 0 -3.6 0M624.70 287.30a1.8 1.8 0 1 0 3.6 0a1.8 1.8 0 1 0 -3.6 0M626.20 286.80a1.8 1.8 0 1 0 3.6 0a1.8 1.8 0 1 0 -3.6 0M649.20 286.50a1.8 1.8 0 1 0 3.6 0a1.8 1.8 0 1 0 -3.6 0M651.20 286.30a1.8 1.8 0 1 0 3.6 0a1.8 1.8 0 1 0 -3.6 0M650.20 287.20a1.8 1.8 0 1 0 3.6 0a1.8 1.8 0 1 0 -3.6 0M704.10 286.30a1.8 1.8 0 1 0 3.6 0a1.8 1.8 0 1 0 -3.6 0M707.50 287.00a1.8 1.8 0 1 0 3.6 0a1.8 1.8 0 1 0 -3.6 0M706.80 286.70a1.8 1.8 0 1 0 3.6 0a1.8 1.8 0 1 0 -3.6 0M622.70 308.50a1.8 1.8 0 1 0 3.6 0a1.8 1.8 0 1 0 -3.6 0M624.70 307.50a1.8 1.8 0 1 0 3.6 0a1.8 1.8 0 1 0 -3.6 0M626.70 308.50a1.8 1.8 0 1 0 3.6 0a1.8 1.8 0 1 0 -3.6 0M624.70 310.50a1.8 1.8 0 1 0 3.6 0a1.8 1.8 0 1 0 -3.6 0M627.20 311.00a1.8 1.8 0 1 0 3.6 0a1.8 1.8 0 1 0 -3.6 0M628.70 309.00a1.8 1.8 0 1 0 3.6 0a1.8 1.8 0 1 0 -3.6 0M627.70 312.50a1.8 1.8 0 1 0 3.6 0a1.8 1.8 0 1 0 -3.6 0M629.20 311.50a1.8 1.8 0 1 0 3.6 0a1.8 1.8 0 1 0 -3.6 0M625.70 309.50a1.8 1.8 0 1 0 3.6 0a1.8 1.8 0 1 0 -3.6 0M649.80 308.10a1.8 1.8 0 1 0 3.6 0a1.8 1.8 0 1 0 -3.6 0M648.80 310.00a1.8 1.8 0 1 0 3.6 0a1.8 1.8 0 1 0 -3.6 0M649.10 312.10a1.8 1.8 0 1 0 3.6 0a1.8 1.8 0 1 0 -3.6 0M541.80 307.20a1.8 1.8 0 1 0 3.6 0a1.8 1.8 0 1 0 -3.6 0M539.50 311.80a1.8 1.8 0 1 0 3.6 0a1.8 1.8 0 1 0 -3.6 0M545.60 308.30a1.8 1.8 0 1 0 3.6 0a1.8 1.8 0 1 0 -3.6 0M546.70 308.60a1.8 1.8 0 1 0 3.6 0a1.8 1.8 0 1 0 -3.6 0M543.50 311.20a1.8 1.8 0 1 0 3.6 0a1.8 1.8 0 1 0 -3.6 0M545.00 309.50a1.8 1.8 0 1 0 3.6 0a1.8 1.8 0 1 0 -3.6 0M541.20 383.00a1.8 1.8 0 1 0 3.6 0a1.8 1.8 0 1 0 -3.6 0M543.70 382.00a1.8 1.8 0 1 0 3.6 0a1.8 1.8 0 1 0 -3.6 0M546.20 383.00a1.8 1.8 0 1 0 3.6 0a1.8 1.8 0 1 0 -3.6 0M541.20 386.00a1.8 1.8 0 1 0 3.6 0a1.8 1.8 0 1 0 -3.6 0M543.70 386.00a1.8 1.8 0 1 0 3.6 0a1.8 1.8 0 1 0 -3.6 0M546.70 385.50a1.8 1.8 0 1 0 3.6 0a1.8 1.8 0 1 0 -3.6 0M542.70 387.50a1.8 1.8 0 1 0 3.6 0a1.8 1.8 0 1 0 -3.6 0M545.20 387.50a1.8 1.8 0 1 0 3.6 0a1.8 1.8 0 1 0 -3.6 0M547.20 386.50a1.8 1.8 0 1 0 3.6 0a1.8 1.8 0 1 0 -3.6 0M544.20 384.00a1.8 1.8 0 1 0 3.6 0a1.8 1.8 0 1 0 -3.6 0M623.20 386.20a1.8 1.8 0 1 0 3.6 0a1.8 1.8 0 1 0 -3.6 0M625.30 383.05a1.8 1.8 0 1 0 3.6 0a1.8 1.8 0 1 0 -3.6 0M625.50 384.80a1.8 1.8 0 1 0 3.6 0a1.8 1.8 0 1 0 -3.6 0M628.40 385.80a1.8 1.8 0 1 0 3.6 0a1.8 1.8 0 1 0 -3.6 0M649.50 384.50a1.8 1.8 0 1 0 3.6 0a1.8 1.8 0 1 0 -3.6 0M650.50 383.50a1.8 1.8 0 1 0 3.6 0a1.8 1.8 0 1 0 -3.6 0M650.00 385.30a1.8 1.8 0 1 0 3.6 0a1.8 1.8 0 1 0 -3.6 0M625.03 232.71a1.8 1.8 0 1 0 3.6 0a1.8 1.8 0 1 0 -3.6 0M625.17 234.10a1.8 1.8 0 1 0 3.6 0a1.8 1.8 0 1 0 -3.6 0M626.46 234.26a1.8 1.8 0 1 0 3.6 0a1.8 1.8 0 1 0 -3.6 0M648.83 234.78a1.8 1.8 0 1 0 3.6 0a1.8 1.8 0 1 0 -3.6 0M650.88 234.89a1.8 1.8 0 1 0 3.6 0a1.8 1.8 0 1 0 -3.6 0M704.97 231.54a1.8 1.8 0 1 0 3.6 0a1.8 1.8 0 1 0 -3.6 0M705.36 233.46a1.8 1.8 0 1 0 3.6 0a1.8 1.8 0 1 0 -3.6 0M706.84 232.98a1.8 1.8 0 1 0 3.6 0a1.8 1.8 0 1 0 -3.6 0M705.41 235.01a1.8 1.8 0 1 0 3.6 0a1.8 1.8 0 1 0 -3.6 0M706.86 235.03a1.8 1.8 0 1 0 3.6 0a1.8 1.8 0 1 0 -3.6 0M626.08 285.96a1.8 1.8 0 1 0 3.6 0a1.8 1.8 0 1 0 -3.6 0M626.62 307.51a1.8 1.8 0 1 0 3.6 0a1.8 1.8 0 1 0 -3.6 0M625.17 308.90a1.8 1.8 0 1 0 3.6 0a1.8 1.8 0 1 0 -3.6 0M626.79 309.19a1.8 1.8 0 1 0 3.6 0a1.8 1.8 0 1 0 -3.6 0M628.46 308.78a1.8 1.8 0 1 0 3.6 0a1.8 1.8 0 1 0 -3.6 0M624.52 310.72a1.8 1.8 0 1 0 3.6 0a1.8 1.8 0 1 0 -3.6 0M626.77 310.63a1.8 1.8 0 1 0 3.6 0a1.8 1.8 0 1 0 -3.6 0M628.35 310.67a1.8 1.8 0 1 0 3.6 0a1.8 1.8 0 1 0 -3.6 0M544.18 382.51a1.8 1.8 0 1 0 3.6 0a1.8 1.8 0 1 0 -3.6 0M542.53 383.94a1.8 1.8 0 1 0 3.6 0a1.8 1.8 0 1 0 -3.6 0M544.39 384.15a1.8 1.8 0 1 0 3.6 0a1.8 1.8 0 1 0 -3.6 0M546.14 384.12a1.8 1.8 0 1 0 3.6 0a1.8 1.8 0 1 0 -3.6 0M542.49 385.73a1.8 1.8 0 1 0 3.6 0a1.8 1.8 0 1 0 -3.6 0M544.53 385.78a1.8 1.8 0 1 0 3.6 0a1.8 1.8 0 1 0 -3.6 0M546.27 386.10a1.8 1.8 0 1 0 3.6 0a1.8 1.8 0 1 0 -3.6 0M544.66 387.96a1.8 1.8 0 1 0 3.6 0a1.8 1.8 0 1 0 -3.6 0M546.03 310.18a1.8 1.8 0 1 0 3.6 0a1.8 1.8 0 1 0 -3.6 0" stroke="#1f77b4" stroke-width="1.0" fill="none"/>
<line x1="528.63" y1="401.50" x2="722.20" y2="221.25" stroke="#ff7f0e" stroke-width="1.15" stroke-dasharray="2.83 1.22" stroke-opacity="0.75"/>
<path d="M570.38 401.50v2.7M651.79 401.50v2.7M528.30 362.62h-2.7M528.30 286.82h-2.7" stroke="#333" stroke-width="0.8" fill="none"/>
<path d="M528.30 392.78h-1.6M528.30 385.43h-1.6M528.30 379.43h-1.6M528.30 374.36h-1.6M528.30 369.96h-1.6M528.30 366.08h-1.6M528.30 339.80h-1.6M528.30 326.45h-1.6M528.30 316.98h-1.6M528.30 309.64h-1.6M528.30 303.63h-1.6M528.30 298.56h-1.6M528.30 294.16h-1.6M528.30 290.29h-1.6M528.30 264.00h-1.6M528.30 250.65h-1.6M528.30 241.18h-1.6M528.30 233.84h-1.6M528.30 227.84h-1.6M528.30 222.76h-1.6M537.99 401.50v1.6M545.88 401.50v1.6M552.33 401.50v1.6M557.78 401.50v1.6M562.50 401.50v1.6M566.66 401.50v1.6M594.89 401.50v1.6M609.22 401.50v1.6M619.39 401.50v1.6M627.28 401.50v1.6M633.73 401.50v1.6M639.18 401.50v1.6M643.90 401.50v1.6M648.06 401.50v1.6M676.29 401.50v1.6M690.63 401.50v1.6M700.80 401.50v1.6M708.68 401.50v1.6M715.13 401.50v1.6M720.58 401.50v1.6" stroke="#333" stroke-width="0.6" fill="none"/>
<rect x="528.3" y="220.8" width="193.90" height="180.70" fill="none" stroke="#555" stroke-width="0.8"/>
<text x="561.98" y="414.00" font-size="11.0">10</text><text x="574.62" y="409.90" font-size="7.5">1</text>
<text x="643.38" y="414.00" font-size="11.0">10</text><text x="656.02" y="409.90" font-size="7.5">2</text>
<text x="507.99" y="366.72" font-size="11.0">10</text><text x="520.63" y="362.62" font-size="7.5">1</text>
<text x="507.99" y="290.92" font-size="11.0">10</text><text x="520.63" y="286.82" font-size="7.5">2</text>
<text x="532.30" y="234.90" font-size="11.1" style="fill:#d62728;stroke:#d62728;stroke-width:0.05px">f)</text>
<text x="548.30" y="247.80" font-size="10.8">ΔR = 1</text>
<text x="88.33" y="211.00" font-size="11.4" font-style="italic">ρ</text><text x="95.45" y="212.70" font-size="8.6">1000</text><text x="115.39" y="211.00" font-size="11.4"> (gcm</text><text x="144.69" y="208.00" font-size="9.6">−</text><text x="150.69" y="207.20" font-size="7.5">3</text><text x="155.47" y="211.00" font-size="11.4">)</text><text x="159.26" y="211.00" font-size="11.4"> [best-fit]</text>
<g transform="translate(10.90 90.65) rotate(-90)"><text x="-54.48" y="0.00" font-size="11.4" font-style="italic">ρ</text><text x="-47.35" y="1.70" font-size="8.6">1000</text><text x="-27.42" y="0.00" font-size="11.4"> (gcm</text><text x="1.88" y="-3.00" font-size="9.6">−</text><text x="7.89" y="-3.80" font-size="7.5">3</text><text x="12.66" y="0.00" font-size="11.4">)</text><text x="16.46" y="0.00" font-size="11.4"> [mode]</text></g>
<text x="343.89" y="209.40" font-size="11.4">L</text><text x="350.53" y="211.10" font-size="8.6">tot</text><text x="360.09" y="209.40" font-size="11.4"> (L</text><circle cx="376.10" cy="209.50" r="1.9" fill="none" stroke="#000" stroke-width="0.8"/><circle cx="376.10" cy="209.50" r="0.45"/><text x="379.40" y="209.40" font-size="11.4">)</text><text x="383.19" y="209.40" font-size="11.4"> [best-fit]</text>
<g transform="translate(256.60 90.85) rotate(-90)"><text x="-38.66" y="0.00" font-size="11.4">L</text><text x="-32.02" y="1.70" font-size="8.6">tot</text><text x="-22.46" y="0.00" font-size="11.4"> (L</text><circle cx="-6.45" cy="0.10" r="1.9" fill="none" stroke="#000" stroke-width="0.8"/><circle cx="-6.45" cy="0.10" r="0.45"/><text x="-3.15" y="0.00" font-size="11.4">)</text><text x="0.64" y="0.00" font-size="11.4"> [mode]</text></g>
<text x="597.42" y="208.00" font-size="11.4">A</text><text x="605.23" y="209.70" font-size="8.6">V</text><text x="610.96" y="208.00" font-size="11.4"> [best-fit]</text>
<g transform="translate(500.30 91.65) rotate(-90)"><text x="-25.78" y="0.00" font-size="11.4">A</text><text x="-17.98" y="1.70" font-size="8.6">V</text><text x="-12.24" y="0.00" font-size="11.4"> [mode]</text></g>
<text x="114.12" y="427.80" font-size="11.4" font-style="italic">i</text><text x="116.65" y="427.80" font-size="11.4"> (°)</text><text x="131.97" y="427.80" font-size="11.4"> [best-fit]</text>
<g transform="translate(25.40 311.15) rotate(-90)"><text x="-27.94" y="0.00" font-size="11.4" font-style="italic">i</text><text x="-25.40" y="0.00" font-size="11.4"> (°)</text><text x="-10.08" y="0.00" font-size="11.4"> [mode]</text></g>
<text x="352.74" y="427.80" font-size="11.4" font-style="italic">θ</text><text x="358.93" y="427.80" font-size="11.4"> (°)</text><text x="374.25" y="427.80" font-size="11.4"> [best-fit]</text>
<g transform="translate(265.40 311.15) rotate(-90)"><text x="-29.76" y="0.00" font-size="11.4" font-style="italic">θ</text><text x="-23.58" y="0.00" font-size="11.4"> (°)</text><text x="-8.26" y="0.00" font-size="11.4"> [mode]</text></g>
<text x="579.76" y="429.00" font-size="11.4">R</text><text x="588.29" y="430.70" font-size="8.6" letter-spacing="0.15">disk</text><text x="604.19" y="429.00" font-size="11.4"> (au)</text><text x="627.63" y="429.00" font-size="11.4"> [best-fit]</text>
<g transform="translate(501.80 311.15) rotate(-90)"><text x="-42.94" y="0.00" font-size="11.4">R</text><text x="-34.41" y="1.70" font-size="8.6" letter-spacing="0.15">disk</text><text x="-18.52" y="0.00" font-size="11.4"> (au)</text><text x="4.92" y="0.00" font-size="11.4"> [mode]</text></g>
</svg>
</body></html>
